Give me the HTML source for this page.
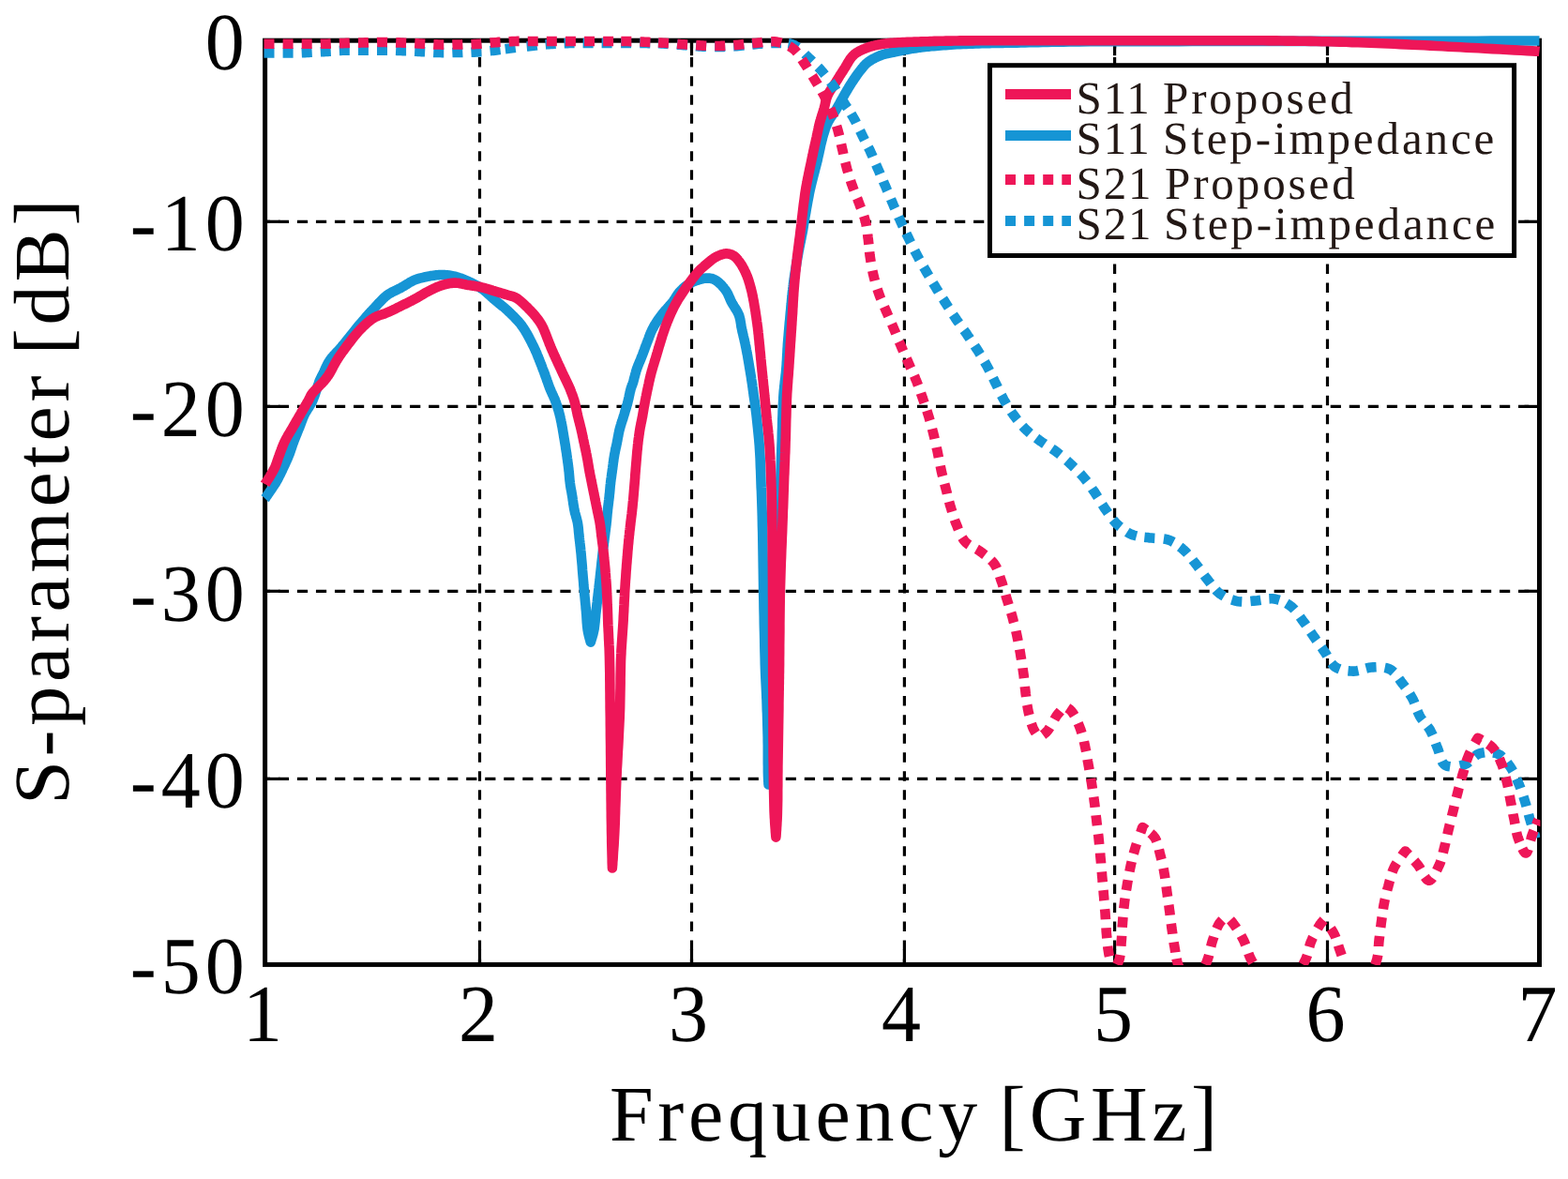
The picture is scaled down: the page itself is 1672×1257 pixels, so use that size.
<!DOCTYPE html>
<html lang="en"><head><meta charset="utf-8"><title>S-parameter [dB] vs Frequency [GHz]</title>
<style>
html,body{margin:0;padding:0;background:#fff;}
body{width:1672px;height:1257px;overflow:hidden;}
svg{display:block;}
text{font-family:"Liberation Serif","DejaVu Serif",serif;fill:#000;text-rendering:geometricPrecision;}
.tk{font-size:84px;letter-spacing:5px;}
.ax{font-size:84px;letter-spacing:4.2px;}
.lg{font-size:49px;letter-spacing:2px;fill:#231815;}
</style></head><body>
<svg width="1672" height="1257" viewBox="0 0 1672 1257">
<rect width="1672" height="1257" fill="#fff"/>
<g stroke="#000" stroke-width="3.2" fill="none">
<line x1="511.5" y1="43.2" x2="511.5" y2="1028.4" stroke-dasharray="10.5 9.53" stroke-dashoffset="2.13"/>
<line x1="511.5" y1="1012.4" x2="511.5" y2="1028.4"/>
<line x1="511.5" y1="43.2" x2="511.5" y2="59.2"/>
<line x1="737.5" y1="43.2" x2="737.5" y2="1028.4" stroke-dasharray="10.5 9.53" stroke-dashoffset="2.13"/>
<line x1="737.5" y1="1012.4" x2="737.5" y2="1028.4"/>
<line x1="737.5" y1="43.2" x2="737.5" y2="59.2"/>
<line x1="964.4" y1="43.2" x2="964.4" y2="1028.4" stroke-dasharray="10.5 9.53" stroke-dashoffset="2.13"/>
<line x1="964.4" y1="1012.4" x2="964.4" y2="1028.4"/>
<line x1="964.4" y1="43.2" x2="964.4" y2="59.2"/>
<line x1="1188.6" y1="43.2" x2="1188.6" y2="1028.4" stroke-dasharray="10.5 9.53" stroke-dashoffset="2.13"/>
<line x1="1188.6" y1="1012.4" x2="1188.6" y2="1028.4"/>
<line x1="1188.6" y1="43.2" x2="1188.6" y2="59.2"/>
<line x1="1415.5" y1="43.2" x2="1415.5" y2="1028.4" stroke-dasharray="10.5 9.53" stroke-dashoffset="2.13"/>
<line x1="1415.5" y1="1012.4" x2="1415.5" y2="1028.4"/>
<line x1="1415.5" y1="43.2" x2="1415.5" y2="59.2"/>
<line x1="282.6" y1="236.3" x2="1641.5" y2="236.3" stroke-dasharray="11.2 8.833" stroke-dashoffset="5.76"/>
<line x1="282.6" y1="236.3" x2="298.6" y2="236.3"/>
<line x1="1625.5" y1="236.3" x2="1641.5" y2="236.3"/>
<line x1="282.6" y1="433.4" x2="1641.5" y2="433.4" stroke-dasharray="11.2 8.833" stroke-dashoffset="5.76"/>
<line x1="282.6" y1="433.4" x2="298.6" y2="433.4"/>
<line x1="1625.5" y1="433.4" x2="1641.5" y2="433.4"/>
<line x1="282.6" y1="630.3" x2="1641.5" y2="630.3" stroke-dasharray="11.2 8.833" stroke-dashoffset="5.76"/>
<line x1="282.6" y1="630.3" x2="298.6" y2="630.3"/>
<line x1="1625.5" y1="630.3" x2="1641.5" y2="630.3"/>
<line x1="282.6" y1="830.4" x2="1641.5" y2="830.4" stroke-dasharray="11.2 8.833" stroke-dashoffset="5.76"/>
<line x1="282.6" y1="830.4" x2="298.6" y2="830.4"/>
<line x1="1625.5" y1="830.4" x2="1641.5" y2="830.4"/>
</g>
<rect x="282.6" y="43.2" width="1358.9" height="985.2" fill="none" stroke="#000" stroke-width="5"/>
<defs><clipPath id="cp"><rect x="270" y="36" width="1372.5" height="993"/></clipPath></defs>
<g clip-path="url(#cp)" fill="none" stroke-linejoin="round">
<path d="M282.6 531.5 L282.8 531.3 L283.3 530.6 L284.0 529.5 L285.0 528.1 L286.1 526.5 L287.4 524.7 L288.7 522.7 L290.1 520.7 L291.4 518.7 L292.6 516.8 L293.8 515.1 L294.7 513.5 L295.4 512.3 L296.1 511.1 L296.7 509.9 L297.3 508.7 L297.9 507.5 L298.5 506.3 L299.1 505.1 L299.7 503.9 L300.2 502.8 L300.8 501.6 L301.3 500.4 L301.9 499.2 L302.5 498.0 L303.0 496.8 L303.6 495.6 L304.1 494.4 L304.7 493.2 L305.2 492.0 L305.8 490.8 L306.3 489.6 L306.8 488.4 L307.3 487.2 L307.8 486.0 L308.3 484.8 L308.8 483.6 L309.2 482.4 L309.6 481.2 L310.0 480.0 L310.4 478.9 L310.8 477.7 L311.2 476.5 L311.6 475.3 L312.0 474.1 L312.4 472.9 L312.9 471.7 L313.3 470.5 L313.8 469.3 L314.2 468.1 L314.7 466.9 L315.2 465.7 L315.7 464.5 L316.2 463.3 L316.7 462.1 L317.1 460.9 L317.6 459.7 L318.1 458.5 L318.6 457.3 L319.1 456.1 L319.6 454.9 L320.0 453.7 L320.5 452.5 L320.9 451.3 L321.4 450.1 L321.8 448.9 L322.3 447.7 L322.7 446.5 L323.2 445.3 L323.7 444.2 L324.2 443.0 L324.8 441.8 L325.4 440.6 L326.1 439.4 L326.8 438.3 L327.5 437.1 L328.2 436.0 L329.0 434.8 L329.7 433.6 L330.4 432.5 L331.2 431.2 L331.9 430.0 L332.6 428.7 L333.2 427.4 L333.9 425.7 L334.6 424.0 L335.3 422.1 L336.0 420.2 L336.6 418.2 L337.3 416.2 L337.9 414.3 L338.5 412.4 L339.1 410.6 L339.7 408.9 L340.2 407.3 L340.8 405.9 L341.1 405.2 L341.4 404.5 L341.7 403.9 L342.0 403.3 L342.3 402.7 L342.6 402.2 L342.8 401.7 L343.1 401.1 L343.4 400.6 L343.7 400.0 L344.1 399.4 L344.4 398.7 L344.9 397.7 L345.4 396.6 L345.9 395.4 L346.4 394.3 L347.0 393.0 L347.5 391.8 L348.1 390.5 L348.7 389.3 L349.4 388.0 L350.0 386.8 L350.8 385.6 L351.5 384.4 L352.4 383.2 L353.3 382.0 L354.2 380.8 L355.2 379.7 L356.2 378.5 L357.3 377.4 L358.3 376.2 L359.4 375.1 L360.6 373.9 L361.7 372.6 L362.8 371.3 L364.0 370.0 L365.5 368.1 L367.2 366.2 L368.8 364.1 L370.6 361.9 L372.3 359.8 L374.1 357.5 L375.9 355.3 L377.7 353.1 L379.4 350.9 L381.1 348.8 L382.8 346.8 L384.4 344.9 L385.7 343.4 L386.9 342.0 L388.1 340.6 L389.3 339.2 L390.5 337.8 L391.6 336.5 L392.8 335.2 L394.0 333.9 L395.1 332.6 L396.3 331.4 L397.5 330.1 L398.7 328.8 L399.9 327.5 L401.1 326.3 L402.2 325.0 L403.4 323.7 L404.6 322.4 L405.8 321.2 L407.0 320.0 L408.2 318.8 L409.4 317.6 L410.6 316.5 L411.8 315.5 L413.1 314.5 L414.2 313.7 L415.4 313.0 L416.6 312.3 L417.8 311.6 L419.0 311.0 L420.2 310.4 L421.4 309.9 L422.6 309.3 L423.8 308.7 L425.0 308.1 L426.2 307.5 L427.4 306.9 L428.6 306.2 L429.8 305.5 L431.0 304.8 L432.2 304.0 L433.4 303.3 L434.6 302.6 L435.8 301.8 L436.9 301.1 L438.1 300.5 L439.4 299.8 L440.6 299.2 L441.8 298.7 L443.0 298.2 L444.1 297.8 L445.3 297.4 L446.5 297.0 L447.7 296.7 L448.9 296.4 L450.1 296.1 L451.3 295.8 L452.5 295.5 L453.7 295.3 L454.9 295.0 L456.1 294.8 L457.3 294.6 L458.5 294.3 L459.7 294.1 L460.9 293.9 L462.1 293.7 L463.3 293.6 L464.5 293.4 L465.7 293.3 L466.9 293.2 L468.1 293.1 L469.3 293.0 L470.5 293.0 L471.7 293.0 L472.9 293.0 L474.1 293.1 L475.3 293.2 L476.5 293.3 L477.7 293.4 L478.9 293.6 L480.1 293.8 L481.2 294.0 L482.4 294.2 L483.6 294.4 L484.8 294.7 L486.0 295.0 L487.2 295.3 L488.4 295.7 L489.6 296.1 L490.9 296.5 L492.1 296.9 L493.3 297.4 L494.5 297.9 L495.6 298.4 L496.8 298.9 L498.0 299.4 L499.2 299.9 L500.4 300.4 L501.6 301.0 L502.8 301.6 L504.0 302.2 L505.2 302.8 L506.4 303.4 L507.6 304.0 L508.8 304.7 L510.0 305.4 L511.2 306.1 L512.3 306.8 L513.5 307.6 L514.7 308.5 L516.0 309.4 L517.2 310.4 L518.4 311.4 L519.6 312.5 L520.8 313.6 L522.0 314.6 L523.1 315.7 L524.3 316.8 L525.5 317.9 L526.7 319.0 L527.9 320.0 L529.1 321.0 L530.3 322.0 L531.5 323.0 L532.7 323.9 L533.9 324.9 L535.1 325.9 L536.3 326.8 L537.5 327.8 L538.7 328.8 L539.9 329.9 L541.0 330.9 L542.2 332.0 L543.4 333.2 L544.7 334.4 L545.9 335.6 L547.2 336.8 L548.4 338.0 L549.6 339.3 L550.8 340.6 L552.0 341.9 L553.2 343.2 L554.4 344.6 L555.5 346.0 L556.6 347.5 L557.8 349.2 L559.0 351.0 L560.2 352.9 L561.4 354.9 L562.5 356.9 L563.6 358.9 L564.7 361.0 L565.7 363.0 L566.8 365.0 L567.7 366.9 L568.6 368.7 L569.5 370.5 L570.1 371.8 L570.7 373.0 L571.2 374.3 L571.8 375.5 L572.3 376.6 L572.7 377.8 L573.2 379.0 L573.6 380.1 L574.1 381.3 L574.6 382.4 L575.0 383.6 L575.5 384.8 L576.0 386.0 L576.5 387.3 L577.0 388.6 L577.5 389.8 L578.0 391.1 L578.4 392.4 L578.9 393.7 L579.4 394.9 L579.9 396.2 L580.4 397.5 L580.8 398.7 L581.3 400.0 L581.7 401.2 L582.2 402.4 L582.6 403.6 L583.0 404.8 L583.4 406.0 L583.9 407.2 L584.3 408.4 L584.7 409.6 L585.1 410.8 L585.6 412.0 L586.0 413.2 L586.5 414.4 L587.0 415.6 L587.5 416.8 L588.0 418.0 L588.6 419.2 L589.1 420.4 L589.7 421.5 L590.2 422.7 L590.7 423.9 L591.3 425.1 L591.8 426.3 L592.2 427.5 L592.7 428.7 L593.1 429.9 L593.5 431.1 L593.9 432.3 L594.3 433.5 L594.7 434.7 L595.0 435.9 L595.4 437.1 L595.7 438.3 L596.1 439.5 L596.4 440.7 L596.7 441.9 L597.0 443.1 L597.3 444.3 L597.6 445.5 L597.8 446.7 L598.1 447.9 L598.3 449.0 L598.6 450.2 L598.8 451.4 L599.0 452.6 L599.2 453.8 L599.5 455.0 L599.7 456.2 L599.9 457.4 L600.1 458.6 L600.3 459.8 L600.5 461.0 L600.7 462.2 L600.9 463.4 L601.1 464.6 L601.3 465.8 L601.5 467.0 L601.7 468.2 L601.9 469.4 L602.1 470.6 L602.3 471.8 L602.5 473.0 L602.7 474.2 L602.9 475.4 L603.1 476.6 L603.2 477.8 L603.4 478.9 L603.6 480.1 L603.8 481.3 L604.0 482.5 L604.2 483.7 L604.3 484.9 L604.5 486.1 L604.7 487.3 L604.8 488.5 L605.0 489.7 L605.2 490.9 L605.3 492.1 L605.5 493.3 L605.7 494.5 L605.8 495.7 L606.0 496.9 L606.1 498.1 L606.3 499.3 L606.4 500.5 L606.5 501.7 L606.7 502.9 L606.8 504.1 L606.9 505.3 L607.0 506.5 L607.1 507.7 L607.2 508.8 L607.3 510.0 L607.4 511.2 L607.5 512.4 L607.7 513.6 L607.8 514.8 L608.0 516.0 L608.1 517.2 L608.3 518.4 L608.5 519.6 L608.7 520.8 L608.9 522.0 L609.2 523.2 L609.4 524.4 L609.6 525.6 L609.8 526.8 L610.0 528.0 L610.2 529.2 L610.4 530.4 L610.6 531.6 L610.7 532.8 L610.9 534.0 L611.1 535.2 L611.2 536.4 L611.4 537.5 L611.6 538.7 L611.8 539.9 L612.0 541.1 L612.2 542.3 L612.4 543.5 L612.7 544.7 L612.9 545.9 L613.2 547.1 L613.6 548.3 L613.9 549.5 L614.2 550.7 L614.6 551.9 L614.9 553.1 L615.2 554.3 L615.5 555.5 L615.8 556.7 L616.0 557.9 L616.2 559.1 L616.4 560.3 L616.5 561.4 L616.7 562.6 L616.8 563.8 L616.9 565.0 L617.0 566.2 L617.1 567.4 L617.2 568.6 L617.4 569.8 L617.5 571.0 L617.6 572.2 L617.7 573.5 L617.9 574.8 L618.0 576.0 L618.2 577.3 L618.3 578.5 L618.5 579.8 L618.6 581.1 L618.8 582.4 L618.9 583.8 L619.1 585.3 L619.2 586.8 L619.4 588.4 L619.7 591.1 L619.9 594.0 L620.2 597.2 L620.5 600.5 L620.8 603.9 L621.0 607.4 L621.3 610.9 L621.6 614.4 L621.9 617.9 L622.2 621.2 L622.4 624.4 L622.7 627.4 L622.9 629.6 L623.1 631.8 L623.3 634.0 L623.5 636.0 L623.7 638.1 L623.9 640.1 L624.1 642.1 L624.3 644.0 L624.5 646.0 L624.6 647.9 L624.8 649.9 L625.0 651.8 L625.1 653.6 L625.3 655.3 L625.4 657.1 L625.5 658.9 L625.6 660.6 L625.7 662.3 L625.8 664.0 L626.0 665.7 L626.1 667.3 L626.3 668.9 L626.5 670.5 L626.7 672.0 L626.9 673.2 L627.2 674.6 L627.5 676.0 L627.8 677.4 L628.2 678.8 L628.5 680.1 L628.9 681.3 L629.2 682.4 L629.4 683.3 L629.6 684.0 L629.8 684.4 L629.8 684.6 L629.9 684.4 L630.0 684.0 L630.2 683.3 L630.5 682.4 L630.8 681.3 L631.2 680.1 L631.6 678.8 L632.0 677.4 L632.4 676.0 L632.7 674.6 L633.0 673.2 L633.3 672.0 L633.6 670.5 L633.8 668.9 L634.0 667.3 L634.2 665.7 L634.4 664.0 L634.6 662.3 L634.7 660.6 L634.9 658.9 L635.1 657.1 L635.2 655.3 L635.4 653.6 L635.6 651.8 L635.8 649.9 L636.1 647.9 L636.3 646.0 L636.5 644.0 L636.8 642.1 L637.0 640.1 L637.2 638.1 L637.5 636.0 L637.7 634.0 L638.0 631.8 L638.2 629.6 L638.5 627.4 L638.8 624.4 L639.2 621.2 L639.6 617.9 L639.9 614.5 L640.3 610.9 L640.7 607.4 L641.1 603.9 L641.4 600.5 L641.8 597.2 L642.2 594.0 L642.5 591.1 L642.8 588.4 L643.0 586.8 L643.2 585.3 L643.3 583.8 L643.5 582.4 L643.7 581.1 L643.8 579.8 L644.0 578.5 L644.2 577.3 L644.3 576.0 L644.5 574.8 L644.6 573.5 L644.8 572.2 L645.0 571.0 L645.1 569.8 L645.3 568.6 L645.4 567.4 L645.6 566.2 L645.7 565.0 L645.9 563.8 L646.0 562.6 L646.2 561.5 L646.3 560.3 L646.5 559.1 L646.6 557.9 L646.7 556.7 L646.9 555.5 L647.0 554.3 L647.1 553.1 L647.2 551.9 L647.3 550.7 L647.4 549.5 L647.5 548.3 L647.6 547.1 L647.8 545.9 L647.9 544.7 L648.0 543.5 L648.1 542.3 L648.3 541.1 L648.4 539.9 L648.6 538.7 L648.7 537.5 L648.9 536.4 L649.0 535.2 L649.1 534.0 L649.3 532.8 L649.4 531.6 L649.6 530.4 L649.7 529.2 L649.8 528.0 L649.9 526.8 L650.1 525.6 L650.2 524.4 L650.3 523.2 L650.4 522.0 L650.5 520.8 L650.6 519.6 L650.7 518.4 L650.8 517.2 L651.0 516.0 L651.1 514.8 L651.2 513.6 L651.4 512.4 L651.5 511.2 L651.7 510.0 L651.9 508.8 L652.0 507.6 L652.2 506.5 L652.3 505.3 L652.5 504.1 L652.7 502.9 L652.8 501.7 L653.0 500.5 L653.2 499.3 L653.3 498.1 L653.5 496.9 L653.6 495.7 L653.8 494.5 L653.9 493.3 L654.1 492.1 L654.3 490.9 L654.4 489.7 L654.6 488.5 L654.8 487.3 L655.0 486.1 L655.2 484.9 L655.4 483.7 L655.7 482.5 L655.9 481.3 L656.1 480.1 L656.4 478.9 L656.6 477.8 L656.9 476.6 L657.2 475.4 L657.4 474.2 L657.7 473.0 L657.9 471.8 L658.1 470.6 L658.4 469.4 L658.6 468.2 L658.8 467.0 L659.0 465.8 L659.3 464.6 L659.5 463.4 L659.7 462.2 L660.0 461.0 L660.2 459.8 L660.5 458.6 L660.8 457.4 L661.1 456.2 L661.5 455.0 L661.8 453.8 L662.2 452.6 L662.5 451.4 L662.9 450.2 L663.3 449.1 L663.7 447.9 L664.1 446.7 L664.5 445.5 L664.8 444.3 L665.2 443.1 L665.6 441.9 L665.9 440.7 L666.3 439.5 L666.6 438.3 L667.0 437.1 L667.4 435.9 L667.7 434.7 L668.1 433.5 L668.4 432.3 L668.8 431.1 L669.1 429.9 L669.4 428.7 L669.7 427.5 L670.0 426.3 L670.3 425.0 L670.6 423.7 L670.8 422.5 L671.1 421.2 L671.4 420.0 L671.6 418.7 L671.9 417.6 L672.2 416.5 L672.4 415.4 L672.7 414.4 L672.9 413.8 L673.1 413.2 L673.3 412.6 L673.5 412.1 L673.6 411.6 L673.8 411.1 L674.0 410.7 L674.2 410.2 L674.4 409.6 L674.6 409.1 L674.8 408.5 L675.0 407.9 L675.3 406.9 L675.6 405.8 L675.9 404.7 L676.2 403.5 L676.5 402.3 L676.9 401.0 L677.2 399.8 L677.5 398.5 L677.9 397.2 L678.2 395.9 L678.6 394.7 L679.0 393.5 L679.4 392.3 L679.9 391.1 L680.3 389.9 L680.8 388.7 L681.3 387.5 L681.8 386.3 L682.3 385.1 L682.8 384.0 L683.3 382.8 L683.7 381.6 L684.2 380.4 L684.7 379.2 L685.2 378.0 L685.6 376.8 L686.1 375.6 L686.5 374.4 L687.0 373.2 L687.4 372.0 L687.8 370.8 L688.3 369.6 L688.7 368.4 L689.2 367.2 L689.6 366.0 L690.1 364.8 L690.6 363.6 L691.0 362.4 L691.5 361.2 L691.9 360.0 L692.3 358.8 L692.8 357.6 L693.3 356.4 L693.7 355.2 L694.2 354.0 L694.8 352.8 L695.3 351.7 L695.9 350.5 L696.6 349.3 L697.2 348.1 L697.9 346.8 L698.7 345.6 L699.4 344.4 L700.2 343.2 L701.0 342.0 L701.8 340.8 L702.6 339.6 L703.5 338.4 L704.3 337.3 L705.2 336.1 L706.1 334.9 L707.1 333.7 L708.2 332.4 L709.2 331.2 L710.3 330.0 L711.4 328.8 L712.5 327.6 L713.5 326.4 L714.6 325.2 L715.6 324.1 L716.5 322.9 L717.4 321.8 L718.1 320.9 L718.7 320.0 L719.3 319.0 L719.9 318.1 L720.4 317.2 L721.0 316.4 L721.5 315.5 L722.1 314.6 L722.7 313.8 L723.3 312.9 L723.9 312.1 L724.6 311.3 L725.4 310.5 L726.1 309.7 L727.0 308.9 L727.8 308.1 L728.6 307.3 L729.5 306.5 L730.4 305.8 L731.3 305.0 L732.2 304.4 L733.1 303.7 L734.1 303.1 L735.0 302.5 L735.9 302.0 L736.8 301.5 L737.7 301.0 L738.7 300.6 L739.6 300.2 L740.6 299.8 L741.6 299.5 L742.5 299.1 L743.4 298.8 L744.4 298.5 L745.2 298.3 L746.1 298.0 L746.7 297.8 L747.4 297.6 L748.0 297.5 L748.6 297.3 L749.2 297.2 L749.8 297.0 L750.4 296.9 L750.9 296.8 L751.5 296.7 L752.1 296.7 L752.7 296.6 L753.3 296.6 L753.9 296.6 L754.5 296.6 L755.1 296.6 L755.7 296.6 L756.3 296.6 L756.9 296.7 L757.5 296.8 L758.1 296.9 L758.7 297.0 L759.3 297.1 L759.9 297.3 L760.5 297.5 L761.1 297.8 L761.8 298.1 L762.4 298.4 L763.0 298.7 L763.6 299.1 L764.2 299.5 L764.8 300.0 L765.4 300.4 L766.0 300.9 L766.6 301.4 L767.1 301.9 L767.7 302.4 L768.3 303.0 L769.0 303.6 L769.6 304.3 L770.2 305.0 L770.8 305.7 L771.5 306.4 L772.0 307.1 L772.6 307.9 L773.2 308.6 L773.8 309.4 L774.3 310.2 L774.8 311.0 L775.3 311.8 L775.8 312.7 L776.2 313.5 L776.6 314.4 L777.0 315.3 L777.4 316.2 L777.8 317.1 L778.2 318.0 L778.6 319.0 L779.0 319.9 L779.4 320.8 L779.9 321.8 L780.5 322.9 L781.2 324.1 L781.9 325.2 L782.6 326.4 L783.4 327.6 L784.1 328.8 L784.9 330.0 L785.6 331.2 L786.3 332.4 L786.9 333.6 L787.5 334.9 L788.0 336.1 L788.4 337.3 L788.7 338.5 L789.0 339.6 L789.3 340.8 L789.5 342.0 L789.7 343.3 L789.9 344.5 L790.1 345.7 L790.3 346.9 L790.4 348.1 L790.7 349.3 L790.9 350.5 L791.2 351.7 L791.4 352.9 L791.7 354.1 L792.0 355.3 L792.3 356.5 L792.6 357.7 L792.8 358.8 L793.1 360.0 L793.4 361.2 L793.7 362.4 L793.9 363.6 L794.2 364.8 L794.5 366.0 L794.7 367.2 L795.0 368.4 L795.2 369.6 L795.5 370.8 L795.7 372.0 L795.9 373.2 L796.2 374.4 L796.4 375.6 L796.6 376.8 L796.9 378.0 L797.1 379.2 L797.3 380.4 L797.5 381.6 L797.7 382.8 L797.9 384.0 L798.1 385.2 L798.3 386.3 L798.5 387.5 L798.7 388.7 L798.9 389.9 L799.1 391.1 L799.3 392.3 L799.5 393.5 L799.7 394.7 L799.9 395.9 L800.1 397.1 L800.3 398.3 L800.5 399.5 L800.7 400.7 L800.9 401.9 L801.1 403.1 L801.2 404.3 L801.4 405.5 L801.6 406.7 L801.8 407.9 L802.0 409.1 L802.2 410.3 L802.3 411.5 L802.5 412.8 L802.7 414.0 L802.8 415.2 L803.0 416.4 L803.2 417.6 L803.3 418.8 L803.5 419.9 L803.6 421.1 L803.8 422.2 L803.9 423.1 L804.1 424.0 L804.2 424.8 L804.3 425.6 L804.4 426.3 L804.5 427.1 L804.7 427.9 L804.8 428.7 L804.9 429.6 L805.0 430.6 L805.2 431.6 L805.3 432.7 L805.6 435.3 L806.0 438.2 L806.4 441.4 L806.8 444.9 L807.2 448.6 L807.6 452.4 L808.0 456.3 L808.4 460.3 L808.8 464.2 L809.2 468.1 L809.5 471.8 L809.8 475.4 L810.0 478.7 L810.2 482.0 L810.4 485.2 L810.6 488.4 L810.7 491.7 L810.8 494.9 L810.9 498.1 L811.1 501.3 L811.2 504.5 L811.3 507.6 L811.4 510.8 L811.5 514.0 L811.6 517.0 L811.7 520.0 L811.9 522.9 L812.0 525.8 L812.1 528.7 L812.2 531.6 L812.3 534.5 L812.4 537.5 L812.5 540.6 L812.6 543.8 L812.7 547.2 L812.8 550.7 L812.9 556.0 L813.0 561.6 L813.2 567.5 L813.3 573.6 L813.4 579.9 L813.5 586.4 L813.6 592.9 L813.7 599.5 L813.8 606.2 L813.9 612.9 L814.0 619.5 L814.1 626.1 L814.2 633.4 L814.4 641.0 L814.5 648.8 L814.7 656.8 L814.8 664.9 L815.0 672.9 L815.2 680.7 L815.3 688.3 L815.5 695.5 L815.7 702.3 L815.8 708.5 L816.0 714.0 L816.1 716.7 L816.2 719.1 L816.3 721.4 L816.4 723.6 L816.5 725.6 L816.6 727.6 L816.7 729.5 L816.8 731.4 L816.9 733.4 L817.0 735.5 L817.1 737.7 L817.2 740.0 L817.3 743.2 L817.5 746.5 L817.6 750.0 L817.7 753.5 L817.8 757.2 L818.0 760.8 L818.1 764.5 L818.2 768.3 L818.3 772.0 L818.4 775.7 L818.5 779.4 L818.6 783.0 L818.7 786.7 L818.7 790.5 L818.8 794.4 L818.8 798.4 L818.8 802.4 L818.8 806.3 L818.8 810.1 L818.8 813.8 L818.9 817.3 L818.9 820.5 L818.9 823.4 L819.0 826.0 L819.0 827.2 L819.1 828.4 L819.1 829.6 L819.2 830.8 L819.2 831.9 L819.3 833.0 L819.4 834.0 L819.4 834.8 L819.4 835.5 L819.5 836.0 L819.5 836.4 L819.5 836.5 L819.5 835.6 L819.6 833.0 L819.7 829.1 L819.8 824.0 L820.0 817.9 L820.1 811.2 L820.3 804.0 L820.5 796.7 L820.8 789.3 L821.0 782.3 L821.3 775.8 L821.5 770.0 L821.7 765.2 L822.0 760.5 L822.3 756.0 L822.6 751.4 L822.9 747.0 L823.2 742.5 L823.5 738.0 L823.8 733.4 L824.1 728.8 L824.4 724.0 L824.7 719.1 L825.0 714.0 L825.3 707.3 L825.7 700.4 L826.0 693.2 L826.3 685.9 L826.6 678.4 L826.9 670.8 L827.2 663.2 L827.4 655.6 L827.7 648.0 L828.0 640.5 L828.2 633.2 L828.5 626.0 L828.7 619.5 L829.0 613.0 L829.2 606.6 L829.4 600.2 L829.6 593.9 L829.8 587.6 L830.0 581.3 L830.2 575.1 L830.4 568.8 L830.6 562.6 L830.8 556.3 L831.0 550.0 L831.2 543.7 L831.4 537.3 L831.6 530.9 L831.8 524.5 L832.1 518.0 L832.3 511.6 L832.5 505.3 L832.7 499.0 L832.9 492.8 L833.1 486.7 L833.3 480.8 L833.5 475.0 L833.7 470.2 L833.8 465.5 L833.9 460.8 L834.1 456.1 L834.2 451.5 L834.3 447.0 L834.5 442.6 L834.6 438.3 L834.8 434.1 L835.0 430.0 L835.2 426.0 L835.4 422.2 L835.6 419.5 L835.8 416.9 L836.1 414.4 L836.3 412.0 L836.6 409.6 L836.8 407.3 L837.1 405.0 L837.4 402.7 L837.6 400.5 L837.9 398.2 L838.1 395.9 L838.3 393.5 L838.5 391.1 L838.7 388.7 L838.8 386.3 L839.0 383.9 L839.1 381.5 L839.2 379.2 L839.4 376.8 L839.5 374.4 L839.6 372.0 L839.8 369.6 L839.9 367.2 L840.1 364.8 L840.3 362.4 L840.5 360.0 L840.7 357.6 L840.9 355.2 L841.1 352.8 L841.3 350.4 L841.5 348.1 L841.7 345.7 L841.9 343.3 L842.2 340.9 L842.4 338.5 L842.6 336.1 L842.8 333.7 L843.1 331.2 L843.3 328.7 L843.5 326.2 L843.8 323.6 L844.0 321.1 L844.2 318.7 L844.5 316.2 L844.7 313.9 L844.9 311.6 L845.2 309.4 L845.4 307.4 L845.6 306.0 L845.7 304.7 L845.9 303.5 L846.0 302.3 L846.2 301.1 L846.3 299.9 L846.5 298.8 L846.6 297.7 L846.8 296.6 L847.0 295.4 L847.1 294.3 L847.3 293.1 L847.5 291.9 L847.7 290.7 L847.9 289.5 L848.1 288.3 L848.3 287.1 L848.5 285.9 L848.7 284.7 L848.9 283.5 L849.1 282.3 L849.3 281.1 L849.5 279.9 L849.7 278.7 L849.9 277.5 L850.1 276.3 L850.3 275.1 L850.5 273.9 L850.8 272.7 L851.0 271.5 L851.2 270.4 L851.4 269.2 L851.6 268.0 L851.8 266.8 L852.1 265.6 L852.3 264.4 L852.5 263.2 L852.8 262.1 L853.0 261.0 L853.2 259.9 L853.4 258.8 L853.7 257.7 L853.9 256.6 L854.1 255.4 L854.4 254.2 L854.6 252.9 L854.9 251.5 L855.2 250.0 L855.8 247.0 L856.4 243.5 L857.0 239.7 L857.7 235.7 L858.4 231.4 L859.2 227.1 L859.9 222.7 L860.7 218.2 L861.5 213.9 L862.3 209.8 L863.0 205.8 L863.8 202.2 L864.4 199.5 L865.0 197.0 L865.6 194.5 L866.2 192.1 L866.8 189.7 L867.4 187.4 L868.0 185.1 L868.6 182.8 L869.2 180.5 L869.8 178.2 L870.4 175.9 L871.0 173.5 L871.6 171.1 L872.1 168.6 L872.7 166.1 L873.3 163.6 L873.8 161.0 L874.4 158.5 L874.9 156.0 L875.4 153.6 L876.0 151.3 L876.6 149.0 L877.1 146.8 L877.7 144.8 L878.1 143.4 L878.5 142.1 L878.9 140.8 L879.3 139.6 L879.6 138.4 L880.0 137.3 L880.4 136.1 L880.8 135.0 L881.3 133.9 L881.7 132.8 L882.3 131.7 L882.8 130.5 L883.4 129.3 L884.1 128.1 L884.9 126.8 L885.6 125.6 L886.4 124.5 L887.2 123.3 L888.0 122.1 L888.9 120.9 L889.7 119.7 L890.5 118.5 L891.3 117.3 L892.0 116.1 L892.7 114.9 L893.4 113.7 L894.1 112.5 L894.7 111.3 L895.4 110.1 L896.0 108.9 L896.7 107.7 L897.4 106.5 L898.0 105.3 L898.7 104.1 L899.3 103.0 L900.0 101.8 L900.7 100.7 L901.3 99.5 L902.0 98.4 L902.6 97.3 L903.3 96.2 L903.9 95.1 L904.6 94.0 L905.2 92.9 L905.9 91.8 L906.6 90.7 L907.3 89.6 L908.0 88.5 L908.7 87.4 L909.5 86.2 L910.3 85.0 L911.1 83.8 L911.9 82.7 L912.7 81.5 L913.5 80.3 L914.3 79.2 L915.1 78.1 L915.9 77.0 L916.7 76.0 L917.5 75.0 L918.1 74.2 L918.7 73.5 L919.3 72.8 L919.8 72.1 L920.4 71.4 L920.9 70.7 L921.5 70.0 L922.1 69.4 L922.7 68.8 L923.4 68.1 L924.1 67.5 L924.8 66.9 L925.8 66.1 L926.8 65.4 L928.0 64.7 L929.1 63.9 L930.3 63.2 L931.6 62.5 L932.8 61.9 L934.1 61.2 L935.4 60.6 L936.7 60.0 L938.0 59.5 L939.2 59.0 L940.4 58.6 L941.5 58.2 L942.7 57.8 L943.9 57.5 L945.1 57.2 L946.3 57.0 L947.5 56.7 L948.7 56.5 L949.9 56.2 L951.1 56.0 L952.3 55.8 L953.5 55.5 L954.7 55.2 L955.9 55.0 L957.1 54.7 L958.3 54.5 L959.5 54.3 L960.7 54.0 L961.9 53.8 L963.1 53.6 L964.3 53.3 L965.5 53.1 L966.7 52.9 L967.9 52.7 L969.1 52.5 L970.2 52.3 L971.4 52.1 L972.5 51.9 L973.6 51.7 L974.7 51.5 L975.9 51.4 L977.1 51.2 L978.3 51.0 L979.5 50.8 L980.8 50.7 L982.2 50.5 L984.2 50.3 L986.4 50.0 L988.6 49.8 L990.9 49.6 L993.2 49.3 L995.6 49.1 L998.1 48.9 L1000.6 48.7 L1003.2 48.5 L1005.7 48.3 L1008.3 48.1 L1010.9 47.9 L1014.0 47.7 L1017.1 47.5 L1020.4 47.3 L1023.7 47.2 L1027.0 47.0 L1030.4 46.9 L1033.8 46.8 L1037.1 46.6 L1040.4 46.5 L1043.7 46.4 L1046.9 46.3 L1050.0 46.2 L1052.6 46.1 L1055.1 46.1 L1057.5 46.0 L1059.9 46.0 L1062.3 45.9 L1064.6 45.9 L1067.0 45.9 L1069.4 45.9 L1071.9 45.8 L1074.5 45.8 L1077.2 45.7 L1080.0 45.7 L1084.2 45.6 L1088.5 45.5 L1092.9 45.4 L1097.4 45.3 L1102.1 45.2 L1106.9 45.1 L1111.9 45.0 L1117.1 44.9 L1122.5 44.8 L1128.1 44.7 L1133.9 44.6 L1140.0 44.5 L1150.6 44.4 L1162.0 44.3 L1174.2 44.2 L1187.0 44.2 L1200.3 44.1 L1214.1 44.1 L1228.2 44.1 L1242.5 44.1 L1256.9 44.1 L1271.4 44.0 L1285.8 44.0 L1300.0 44.0 L1316.0 44.0 L1332.4 43.9 L1349.2 43.9 L1366.3 43.9 L1383.5 43.9 L1400.8 43.9 L1418.0 43.9 L1435.1 43.9 L1451.9 43.9 L1468.4 43.8 L1484.5 43.8 L1500.0 43.8 L1513.5 43.8 L1528.3 43.8 L1543.7 43.7 L1559.5 43.7 L1575.0 43.7 L1590.0 43.6 L1603.8 43.6 L1616.2 43.6 L1626.6 43.5 L1634.6 43.5 L1639.7 43.5 L1641.5 43.5" stroke="#1695D5" stroke-width="10.6"/>
<path d="M282.6 516.1 L282.7 515.9 L283.2 515.2 L283.8 514.2 L284.6 512.9 L285.6 511.4 L286.7 509.7 L287.8 507.9 L288.9 506.0 L290.0 504.2 L291.0 502.4 L291.9 500.7 L292.7 499.2 L293.3 498.0 L293.8 496.8 L294.3 495.6 L294.7 494.4 L295.1 493.2 L295.5 492.0 L295.9 490.8 L296.3 489.6 L296.7 488.4 L297.1 487.2 L297.6 486.0 L298.0 484.8 L298.5 483.6 L298.9 482.4 L299.3 481.2 L299.8 480.0 L300.2 478.8 L300.7 477.6 L301.2 476.4 L301.6 475.2 L302.1 474.0 L302.6 472.9 L303.1 471.7 L303.7 470.5 L304.3 469.3 L304.9 468.1 L305.6 466.9 L306.3 465.7 L306.9 464.5 L307.6 463.3 L308.4 462.1 L309.1 460.9 L309.8 459.7 L310.5 458.5 L311.2 457.3 L311.9 456.1 L312.6 454.9 L313.3 453.7 L314.0 452.5 L314.7 451.3 L315.3 450.1 L316.0 448.9 L316.7 447.8 L317.4 446.6 L318.1 445.4 L318.8 444.2 L319.5 443.0 L320.2 441.8 L320.9 440.6 L321.6 439.3 L322.4 438.1 L323.1 436.8 L323.9 435.6 L324.6 434.3 L325.3 433.1 L326.1 431.8 L326.7 430.7 L327.4 429.5 L328.0 428.4 L328.6 427.4 L329.0 426.7 L329.3 426.1 L329.6 425.4 L329.9 424.8 L330.2 424.2 L330.5 423.6 L330.8 423.0 L331.0 422.5 L331.3 421.9 L331.7 421.3 L332.0 420.8 L332.4 420.2 L332.9 419.6 L333.3 419.0 L333.8 418.4 L334.4 417.8 L334.9 417.2 L335.5 416.6 L336.0 416.0 L336.6 415.4 L337.2 414.9 L337.8 414.3 L338.3 413.7 L338.9 413.1 L339.5 412.5 L340.0 411.9 L340.6 411.3 L341.2 410.7 L341.8 410.1 L342.4 409.5 L343.0 408.9 L343.6 408.3 L344.2 407.7 L344.7 407.1 L345.3 406.5 L345.8 405.9 L346.3 405.3 L346.7 404.8 L347.2 404.2 L347.6 403.6 L348.1 403.1 L348.5 402.5 L348.9 401.9 L349.3 401.3 L349.8 400.7 L350.2 400.1 L350.6 399.4 L351.1 398.7 L351.7 397.7 L352.3 396.6 L353.0 395.5 L353.6 394.3 L354.2 393.1 L354.9 391.9 L355.5 390.6 L356.2 389.3 L356.9 388.1 L357.6 386.8 L358.3 385.6 L359.0 384.4 L359.8 383.2 L360.5 382.0 L361.3 380.8 L362.1 379.6 L362.9 378.4 L363.7 377.3 L364.5 376.1 L365.4 374.9 L366.3 373.7 L367.1 372.5 L368.1 371.3 L369.0 370.0 L370.1 368.5 L371.3 366.9 L372.6 365.3 L373.8 363.7 L375.1 362.0 L376.4 360.3 L377.7 358.7 L379.1 357.1 L380.4 355.5 L381.7 354.0 L383.1 352.5 L384.4 351.1 L385.6 349.9 L386.7 348.8 L387.9 347.6 L389.1 346.5 L390.2 345.4 L391.4 344.4 L392.6 343.3 L393.8 342.4 L395.0 341.4 L396.2 340.5 L397.4 339.7 L398.7 338.9 L399.9 338.2 L401.0 337.7 L402.2 337.1 L403.4 336.7 L404.6 336.2 L405.8 335.8 L407.1 335.4 L408.3 335.0 L409.5 334.6 L410.7 334.2 L411.9 333.7 L413.1 333.2 L414.3 332.7 L415.5 332.1 L416.7 331.6 L417.9 331.0 L419.1 330.4 L420.3 329.8 L421.5 329.3 L422.6 328.7 L423.8 328.1 L425.0 327.5 L426.2 326.9 L427.4 326.3 L428.6 325.7 L429.8 325.1 L431.0 324.5 L432.2 324.0 L433.4 323.4 L434.6 322.8 L435.8 322.2 L437.0 321.6 L438.2 321.0 L439.4 320.4 L440.6 319.7 L441.8 319.1 L443.0 318.4 L444.2 317.8 L445.4 317.1 L446.6 316.4 L447.8 315.7 L448.9 315.0 L450.1 314.3 L451.3 313.6 L452.5 312.9 L453.7 312.2 L454.9 311.5 L456.1 310.9 L457.3 310.3 L458.5 309.7 L459.7 309.1 L460.9 308.5 L462.0 307.9 L463.2 307.3 L464.4 306.8 L465.6 306.2 L466.9 305.7 L468.1 305.3 L469.3 304.8 L470.5 304.4 L471.7 304.0 L472.9 303.7 L474.0 303.3 L475.2 303.0 L476.4 302.7 L477.6 302.5 L478.8 302.2 L480.0 302.0 L481.2 301.9 L482.4 301.7 L483.6 301.6 L484.8 301.6 L486.0 301.6 L487.2 301.7 L488.4 301.8 L489.6 302.0 L490.8 302.2 L492.0 302.4 L493.2 302.7 L494.4 302.9 L495.6 303.2 L496.8 303.5 L498.0 303.7 L499.2 303.9 L500.4 304.1 L501.6 304.3 L502.8 304.5 L504.0 304.6 L505.2 304.8 L506.4 305.0 L507.6 305.2 L508.7 305.4 L509.9 305.6 L511.1 305.8 L512.3 306.0 L513.5 306.3 L514.7 306.6 L515.9 306.9 L517.1 307.2 L518.3 307.6 L519.5 307.9 L520.7 308.3 L521.9 308.7 L523.1 309.0 L524.3 309.4 L525.5 309.8 L526.7 310.1 L527.9 310.5 L529.1 310.9 L530.3 311.2 L531.6 311.6 L532.9 312.0 L534.1 312.3 L535.4 312.7 L536.6 313.1 L537.8 313.5 L539.0 313.8 L540.1 314.2 L541.2 314.5 L542.2 314.8 L542.9 315.0 L543.5 315.2 L544.2 315.4 L544.8 315.5 L545.4 315.7 L546.0 315.8 L546.6 316.0 L547.1 316.2 L547.7 316.4 L548.3 316.6 L548.8 316.8 L549.4 317.1 L550.0 317.4 L550.6 317.8 L551.2 318.1 L551.8 318.5 L552.4 318.9 L552.9 319.3 L553.5 319.8 L554.1 320.3 L554.7 320.8 L555.3 321.3 L555.9 321.8 L556.6 322.4 L557.7 323.4 L558.8 324.4 L560.0 325.6 L561.3 326.8 L562.6 328.1 L563.9 329.4 L565.2 330.7 L566.5 332.1 L567.7 333.4 L568.9 334.7 L570.0 336.0 L571.0 337.2 L571.7 338.1 L572.4 338.9 L573.0 339.7 L573.6 340.5 L574.2 341.3 L574.8 342.1 L575.3 342.9 L575.9 343.7 L576.4 344.6 L577.0 345.5 L577.5 346.5 L578.1 347.5 L578.9 349.1 L579.7 350.8 L580.5 352.7 L581.3 354.6 L582.1 356.7 L582.9 358.7 L583.7 360.8 L584.5 362.9 L585.3 364.9 L586.0 366.9 L586.8 368.7 L587.5 370.5 L588.1 371.8 L588.6 373.1 L589.2 374.3 L589.7 375.5 L590.2 376.7 L590.7 377.9 L591.3 379.0 L591.8 380.2 L592.3 381.3 L592.8 382.5 L593.4 383.6 L593.9 384.8 L594.4 386.0 L595.0 387.2 L595.5 388.3 L596.1 389.5 L596.6 390.7 L597.2 391.9 L597.7 393.0 L598.3 394.2 L598.8 395.4 L599.4 396.6 L599.9 397.8 L600.5 399.0 L601.1 400.3 L601.7 401.5 L602.3 402.8 L602.9 404.1 L603.6 405.4 L604.2 406.7 L604.8 408.0 L605.4 409.3 L606.0 410.6 L606.6 411.8 L607.2 413.1 L607.7 414.4 L608.2 415.6 L608.7 416.8 L609.1 418.0 L609.6 419.2 L610.0 420.4 L610.5 421.5 L610.9 422.7 L611.3 423.9 L611.7 425.1 L612.1 426.3 L612.4 427.5 L612.8 428.7 L613.1 429.9 L613.4 431.1 L613.7 432.3 L614.0 433.5 L614.2 434.7 L614.5 435.9 L614.7 437.1 L615.0 438.3 L615.2 439.5 L615.5 440.7 L615.7 441.9 L616.0 443.1 L616.3 444.3 L616.6 445.5 L616.9 446.7 L617.2 447.9 L617.5 449.1 L617.8 450.2 L618.1 451.4 L618.4 452.6 L618.7 453.8 L619.0 455.0 L619.3 456.2 L619.6 457.4 L619.9 458.6 L620.1 459.8 L620.4 461.0 L620.7 462.2 L620.9 463.4 L621.2 464.6 L621.4 465.8 L621.7 467.0 L621.9 468.2 L622.2 469.4 L622.4 470.6 L622.7 471.8 L623.0 473.0 L623.2 474.2 L623.5 475.4 L623.7 476.6 L624.0 477.8 L624.2 478.9 L624.5 480.1 L624.7 481.3 L625.0 482.5 L625.2 483.7 L625.5 484.9 L625.7 486.1 L625.9 487.3 L626.1 488.5 L626.4 489.7 L626.6 490.9 L626.8 492.1 L627.0 493.3 L627.2 494.5 L627.4 495.7 L627.6 496.9 L627.8 498.1 L628.0 499.3 L628.2 500.5 L628.4 501.7 L628.6 502.9 L628.9 504.1 L629.1 505.3 L629.3 506.5 L629.6 507.7 L629.8 508.8 L630.0 510.0 L630.3 511.2 L630.5 512.4 L630.8 513.6 L631.0 514.8 L631.2 516.0 L631.5 517.2 L631.7 518.4 L632.0 519.6 L632.2 520.8 L632.4 522.0 L632.7 523.2 L632.9 524.4 L633.2 525.6 L633.4 526.8 L633.7 528.0 L633.9 529.2 L634.1 530.4 L634.4 531.6 L634.6 532.8 L634.9 534.0 L635.1 535.2 L635.4 536.4 L635.6 537.5 L635.8 538.7 L636.1 539.9 L636.3 541.1 L636.6 542.3 L636.8 543.5 L637.0 544.7 L637.3 545.9 L637.6 547.1 L637.8 548.3 L638.1 549.5 L638.3 550.7 L638.6 551.9 L638.8 553.1 L639.1 554.3 L639.3 555.5 L639.5 556.7 L639.7 557.9 L639.9 559.1 L640.1 560.3 L640.2 561.4 L640.4 562.6 L640.5 563.8 L640.7 564.9 L640.8 566.1 L640.9 567.3 L641.1 568.5 L641.2 569.7 L641.3 571.0 L641.5 572.2 L641.7 573.6 L641.9 575.0 L642.0 576.4 L642.2 577.8 L642.4 579.2 L642.6 580.6 L642.8 582.0 L643.0 583.5 L643.1 585.1 L643.3 586.6 L643.5 588.3 L643.7 590.0 L644.0 592.6 L644.2 595.3 L644.5 598.1 L644.8 601.1 L645.1 604.1 L645.4 607.2 L645.6 610.4 L645.9 613.5 L646.1 616.7 L646.4 619.9 L646.6 623.0 L646.8 626.1 L647.0 629.2 L647.1 632.3 L647.3 635.5 L647.4 638.6 L647.5 641.8 L647.6 644.9 L647.8 648.1 L647.9 651.3 L648.0 654.4 L648.1 657.6 L648.2 660.7 L648.3 663.8 L648.4 666.8 L648.6 669.8 L648.7 672.7 L648.9 675.6 L649.0 678.5 L649.1 681.4 L649.3 684.3 L649.4 687.3 L649.6 690.3 L649.7 693.4 L649.8 696.7 L649.9 700.0 L650.0 704.5 L650.1 709.1 L650.2 713.8 L650.3 718.7 L650.3 723.7 L650.4 728.7 L650.4 733.9 L650.5 739.0 L650.5 744.3 L650.6 749.5 L650.6 754.8 L650.7 760.0 L650.8 765.8 L650.8 771.7 L650.9 777.7 L650.9 783.8 L651.0 789.9 L651.1 796.0 L651.1 802.1 L651.2 808.2 L651.2 814.3 L651.3 820.2 L651.3 826.1 L651.4 831.8 L651.5 836.8 L651.5 841.9 L651.6 846.9 L651.6 851.9 L651.7 856.8 L651.7 861.7 L651.8 866.5 L651.8 871.3 L651.9 875.9 L652.0 880.5 L652.0 884.9 L652.1 889.2 L652.2 892.7 L652.2 896.6 L652.3 900.5 L652.4 904.6 L652.5 908.5 L652.6 912.3 L652.7 915.9 L652.7 919.0 L652.8 921.6 L652.9 923.7 L652.9 924.9 L652.9 925.4 L652.9 924.9 L653.0 923.7 L653.2 921.6 L653.3 919.0 L653.6 915.9 L653.8 912.3 L654.0 908.5 L654.3 904.6 L654.6 900.5 L654.8 896.6 L655.0 892.7 L655.2 889.2 L655.4 884.9 L655.6 880.5 L655.8 875.9 L655.9 871.3 L656.1 866.5 L656.2 861.7 L656.4 856.8 L656.6 851.9 L656.7 846.9 L656.9 841.9 L657.1 836.8 L657.3 831.8 L657.6 826.1 L657.8 820.2 L658.2 814.3 L658.5 808.2 L658.8 802.1 L659.2 796.0 L659.5 789.9 L659.8 783.8 L660.1 777.7 L660.4 771.7 L660.7 765.8 L660.9 760.0 L661.1 754.8 L661.2 749.5 L661.3 744.3 L661.4 739.0 L661.5 733.9 L661.6 728.7 L661.6 723.7 L661.7 718.7 L661.8 713.8 L661.9 709.1 L662.0 704.5 L662.2 700.0 L662.4 696.7 L662.5 693.4 L662.7 690.3 L662.9 687.3 L663.1 684.3 L663.3 681.4 L663.5 678.5 L663.7 675.6 L663.9 672.7 L664.1 669.8 L664.3 666.8 L664.5 663.8 L664.7 660.7 L664.8 657.6 L665.0 654.4 L665.2 651.3 L665.3 648.1 L665.5 645.0 L665.6 641.8 L665.8 638.7 L666.0 635.5 L666.1 632.4 L666.3 629.2 L666.5 626.1 L666.7 622.9 L666.9 619.6 L667.2 616.3 L667.4 612.9 L667.6 609.6 L667.9 606.3 L668.1 603.0 L668.4 599.8 L668.6 596.7 L668.9 593.8 L669.1 591.0 L669.3 588.4 L669.4 586.8 L669.6 585.3 L669.7 583.9 L669.8 582.5 L669.9 581.1 L670.1 579.8 L670.2 578.5 L670.3 577.3 L670.4 576.0 L670.5 574.8 L670.7 573.5 L670.8 572.2 L670.9 571.0 L671.1 569.8 L671.2 568.6 L671.3 567.4 L671.4 566.2 L671.6 565.0 L671.7 563.8 L671.9 562.6 L672.0 561.5 L672.1 560.3 L672.3 559.1 L672.4 557.9 L672.5 556.7 L672.7 555.5 L672.8 554.3 L673.0 553.1 L673.1 551.9 L673.3 550.7 L673.4 549.5 L673.6 548.3 L673.7 547.1 L673.8 545.9 L674.0 544.7 L674.1 543.5 L674.2 542.3 L674.4 541.1 L674.5 539.9 L674.6 538.7 L674.7 537.5 L674.8 536.4 L674.9 535.2 L675.1 534.0 L675.2 532.8 L675.3 531.6 L675.4 530.4 L675.5 529.2 L675.6 528.0 L675.7 526.8 L675.8 525.6 L675.9 524.4 L676.0 523.2 L676.1 522.0 L676.2 520.8 L676.3 519.6 L676.4 518.4 L676.5 517.2 L676.6 516.0 L676.7 514.8 L676.8 513.6 L676.9 512.4 L677.0 511.2 L677.1 510.0 L677.2 508.8 L677.2 507.6 L677.3 506.5 L677.4 505.3 L677.5 504.1 L677.6 502.9 L677.7 501.7 L677.8 500.5 L677.9 499.3 L678.0 498.1 L678.1 496.9 L678.2 495.7 L678.3 494.5 L678.4 493.3 L678.5 492.1 L678.6 490.9 L678.7 489.7 L678.8 488.5 L678.9 487.3 L679.0 486.1 L679.1 484.9 L679.2 483.7 L679.3 482.5 L679.4 481.3 L679.5 480.1 L679.7 478.9 L679.8 477.8 L679.9 476.6 L680.0 475.4 L680.1 474.2 L680.3 473.0 L680.4 471.8 L680.5 470.6 L680.7 469.4 L680.8 468.2 L681.0 467.0 L681.2 465.8 L681.3 464.6 L681.5 463.4 L681.7 462.2 L681.8 461.0 L682.0 459.8 L682.2 458.6 L682.4 457.4 L682.6 456.2 L682.8 455.0 L683.1 453.8 L683.3 452.6 L683.5 451.4 L683.8 450.2 L684.0 449.1 L684.3 447.9 L684.5 446.7 L684.7 445.5 L685.0 444.3 L685.2 443.1 L685.4 441.9 L685.6 440.7 L685.8 439.5 L686.0 438.3 L686.2 437.1 L686.4 435.9 L686.6 434.7 L686.8 433.5 L687.1 432.3 L687.3 431.1 L687.5 429.9 L687.7 428.7 L687.9 427.5 L688.2 426.3 L688.4 425.1 L688.6 423.9 L688.9 422.7 L689.1 421.5 L689.4 420.4 L689.6 419.2 L689.8 418.0 L690.1 416.8 L690.3 415.6 L690.6 414.4 L690.9 413.2 L691.1 411.9 L691.4 410.7 L691.7 409.4 L691.9 408.1 L692.2 406.8 L692.5 405.6 L692.8 404.4 L693.0 403.2 L693.3 402.1 L693.6 401.0 L693.8 400.0 L694.0 399.4 L694.1 398.8 L694.3 398.2 L694.4 397.7 L694.5 397.2 L694.7 396.7 L694.8 396.3 L694.9 395.8 L695.1 395.2 L695.3 394.7 L695.4 394.1 L695.6 393.5 L695.9 392.5 L696.2 391.4 L696.5 390.3 L696.9 389.1 L697.3 387.9 L697.6 386.7 L698.0 385.4 L698.4 384.2 L698.8 382.9 L699.2 381.7 L699.5 380.4 L699.9 379.2 L700.3 378.0 L700.6 376.8 L701.0 375.6 L701.3 374.4 L701.7 373.2 L702.0 372.0 L702.4 370.8 L702.7 369.6 L703.1 368.4 L703.5 367.2 L703.8 366.0 L704.2 364.8 L704.6 363.6 L704.9 362.4 L705.3 361.2 L705.7 360.0 L706.0 358.8 L706.4 357.6 L706.8 356.4 L707.2 355.3 L707.6 354.1 L708.0 352.9 L708.4 351.7 L708.8 350.5 L709.2 349.3 L709.7 348.1 L710.1 346.9 L710.6 345.7 L711.0 344.5 L711.5 343.3 L712.0 342.1 L712.5 340.9 L713.0 339.7 L713.5 338.5 L714.0 337.3 L714.5 336.1 L715.0 334.9 L715.6 333.7 L716.2 332.5 L716.7 331.3 L717.3 330.1 L717.9 328.9 L718.5 327.7 L719.1 326.5 L719.7 325.3 L720.4 324.2 L721.0 323.0 L721.7 321.8 L722.4 320.6 L723.1 319.3 L723.9 318.1 L724.7 316.9 L725.5 315.7 L726.3 314.4 L727.1 313.2 L727.9 312.0 L728.7 310.8 L729.5 309.7 L730.2 308.5 L731.0 307.4 L731.7 306.4 L732.3 305.5 L733.0 304.5 L733.7 303.6 L734.3 302.7 L735.0 301.8 L735.6 300.9 L736.3 300.0 L736.9 299.2 L737.6 298.3 L738.2 297.4 L738.9 296.6 L739.5 295.8 L740.1 295.1 L740.7 294.3 L741.3 293.6 L741.9 292.8 L742.5 292.1 L743.1 291.4 L743.7 290.7 L744.3 290.0 L744.9 289.3 L745.5 288.7 L746.1 288.0 L746.7 287.4 L747.3 286.8 L747.9 286.3 L748.5 285.7 L749.1 285.2 L749.7 284.7 L750.3 284.2 L750.9 283.6 L751.5 283.1 L752.1 282.6 L752.7 282.1 L753.3 281.6 L753.9 281.1 L754.5 280.6 L755.1 280.1 L755.7 279.6 L756.3 279.1 L756.9 278.6 L757.5 278.1 L758.1 277.6 L758.7 277.1 L759.3 276.7 L759.9 276.2 L760.5 275.8 L761.1 275.4 L761.7 275.0 L762.3 274.7 L762.9 274.3 L763.5 274.0 L764.1 273.7 L764.7 273.3 L765.3 273.0 L765.9 272.8 L766.5 272.5 L767.1 272.2 L767.7 272.0 L768.3 271.8 L768.9 271.6 L769.5 271.4 L770.0 271.2 L770.6 271.0 L771.2 270.9 L771.8 270.7 L772.4 270.6 L773.0 270.5 L773.6 270.4 L774.2 270.4 L774.8 270.4 L775.4 270.4 L776.0 270.5 L776.6 270.6 L777.2 270.7 L777.9 270.8 L778.5 271.0 L779.1 271.2 L779.7 271.4 L780.3 271.6 L780.9 271.9 L781.4 272.2 L782.0 272.5 L782.7 272.9 L783.3 273.4 L783.9 273.9 L784.6 274.5 L785.2 275.1 L785.8 275.8 L786.4 276.4 L786.9 277.1 L787.5 277.9 L788.1 278.6 L788.6 279.3 L789.2 280.1 L789.8 281.0 L790.5 282.0 L791.1 283.0 L791.7 284.1 L792.3 285.2 L792.9 286.3 L793.5 287.4 L794.0 288.5 L794.6 289.7 L795.1 290.8 L795.6 292.0 L796.1 293.1 L796.6 294.2 L797.0 295.4 L797.5 296.6 L797.9 297.8 L798.3 299.0 L798.6 300.2 L799.0 301.4 L799.4 302.6 L799.7 303.8 L800.0 305.0 L800.4 306.2 L800.7 307.4 L801.0 308.6 L801.3 309.8 L801.6 311.0 L801.9 312.2 L802.1 313.4 L802.4 314.6 L802.6 315.8 L802.9 317.0 L803.1 318.2 L803.3 319.4 L803.6 320.6 L803.8 321.8 L804.0 323.0 L804.2 324.2 L804.4 325.4 L804.6 326.6 L804.8 327.8 L805.0 328.9 L805.2 330.1 L805.4 331.3 L805.6 332.5 L805.7 333.7 L805.9 334.9 L806.1 336.1 L806.3 337.3 L806.5 338.5 L806.6 339.7 L806.8 340.9 L807.0 342.1 L807.1 343.3 L807.3 344.5 L807.5 345.7 L807.6 346.9 L807.8 348.1 L808.0 349.3 L808.1 350.5 L808.2 351.7 L808.4 352.9 L808.5 354.1 L808.6 355.3 L808.8 356.5 L808.9 357.6 L809.0 358.8 L809.1 360.0 L809.2 361.2 L809.4 362.4 L809.5 363.6 L809.6 364.8 L809.7 366.0 L809.8 367.2 L810.0 368.4 L810.1 369.6 L810.2 370.8 L810.3 372.0 L810.4 373.2 L810.5 374.4 L810.7 375.6 L810.8 376.8 L810.9 378.0 L811.0 379.2 L811.1 380.4 L811.2 381.6 L811.3 382.8 L811.5 384.0 L811.6 385.2 L811.7 386.4 L811.8 387.5 L811.9 388.7 L812.0 389.9 L812.2 391.1 L812.3 392.3 L812.4 393.5 L812.5 394.7 L812.6 395.9 L812.8 397.1 L812.9 398.3 L813.0 399.5 L813.1 400.7 L813.3 401.9 L813.4 403.1 L813.5 404.3 L813.7 405.5 L813.8 406.7 L813.9 407.9 L814.0 409.1 L814.1 410.2 L814.2 411.4 L814.4 412.5 L814.5 413.7 L814.6 414.8 L814.7 416.0 L814.8 417.2 L814.9 418.4 L815.1 419.6 L815.2 420.9 L815.3 422.2 L815.5 423.9 L815.6 425.7 L815.8 427.5 L816.0 429.3 L816.2 431.2 L816.3 433.1 L816.5 435.0 L816.7 437.0 L816.9 439.0 L817.1 441.0 L817.3 443.0 L817.5 445.0 L817.7 447.3 L818.0 449.7 L818.2 452.1 L818.5 454.5 L818.8 457.0 L819.1 459.5 L819.3 462.0 L819.6 464.6 L819.8 467.1 L820.1 469.7 L820.3 472.3 L820.5 475.0 L820.7 478.1 L820.9 481.2 L821.1 484.4 L821.3 487.7 L821.4 491.0 L821.6 494.3 L821.7 497.6 L821.8 500.9 L822.0 504.2 L822.1 507.5 L822.2 510.8 L822.3 514.0 L822.4 517.0 L822.5 519.9 L822.6 522.8 L822.7 525.6 L822.7 528.4 L822.8 531.3 L822.9 534.1 L823.0 537.1 L823.0 540.1 L823.1 543.2 L823.1 546.5 L823.2 550.0 L823.3 555.3 L823.4 561.0 L823.5 566.9 L823.5 573.0 L823.6 579.4 L823.7 585.9 L823.7 592.5 L823.8 599.2 L823.9 606.0 L823.9 612.7 L824.0 619.4 L824.0 626.0 L824.0 633.3 L824.1 640.9 L824.1 648.8 L824.1 656.8 L824.1 664.8 L824.1 672.8 L824.1 680.7 L824.1 688.3 L824.2 695.5 L824.2 702.3 L824.2 708.5 L824.2 714.0 L824.2 716.7 L824.2 719.1 L824.2 721.3 L824.3 723.3 L824.3 725.3 L824.3 727.2 L824.3 729.0 L824.3 730.9 L824.3 733.0 L824.4 735.1 L824.4 737.4 L824.4 740.0 L824.4 744.8 L824.4 750.0 L824.5 755.6 L824.5 761.6 L824.5 767.8 L824.5 774.2 L824.5 780.6 L824.5 787.1 L824.6 793.6 L824.6 799.9 L824.6 806.0 L824.7 811.8 L824.8 816.9 L824.8 822.0 L824.9 827.2 L824.9 832.3 L825.0 837.5 L825.1 842.5 L825.2 847.4 L825.3 852.2 L825.4 856.8 L825.5 861.2 L825.6 865.3 L825.8 869.2 L825.9 871.7 L826.1 874.2 L826.2 876.9 L826.4 879.5 L826.6 882.1 L826.8 884.5 L826.9 886.7 L827.1 888.6 L827.2 890.3 L827.3 891.5 L827.4 892.3 L827.4 892.6 L827.4 892.3 L827.5 891.5 L827.6 890.3 L827.7 888.6 L827.8 886.7 L828.0 884.5 L828.1 882.1 L828.3 879.5 L828.4 876.9 L828.6 874.2 L828.7 871.7 L828.8 869.2 L828.9 865.3 L829.0 861.2 L829.1 856.8 L829.2 852.2 L829.2 847.4 L829.2 842.5 L829.3 837.5 L829.3 832.3 L829.3 827.2 L829.4 822.0 L829.4 816.9 L829.5 811.8 L829.6 806.0 L829.7 799.9 L829.8 793.6 L829.9 787.1 L830.0 780.6 L830.1 774.2 L830.2 767.8 L830.3 761.6 L830.4 755.6 L830.4 750.0 L830.5 744.8 L830.6 740.0 L830.6 737.4 L830.7 735.1 L830.7 733.0 L830.7 730.9 L830.8 729.0 L830.8 727.2 L830.8 725.3 L830.9 723.3 L830.9 721.3 L830.9 719.1 L831.0 716.7 L831.0 714.0 L831.1 708.5 L831.1 702.3 L831.2 695.5 L831.2 688.3 L831.3 680.7 L831.4 672.9 L831.4 664.9 L831.5 656.8 L831.6 648.8 L831.7 641.0 L831.8 633.4 L832.0 626.1 L832.2 619.5 L832.4 612.9 L832.6 606.2 L832.8 599.5 L833.1 592.9 L833.3 586.4 L833.6 579.9 L833.8 573.6 L834.1 567.5 L834.3 561.6 L834.5 556.0 L834.7 550.7 L834.8 547.2 L834.9 543.8 L835.1 540.6 L835.2 537.5 L835.3 534.5 L835.4 531.6 L835.5 528.7 L835.6 525.8 L835.7 522.9 L835.8 520.0 L835.9 517.0 L836.0 514.0 L836.1 510.8 L836.2 507.7 L836.4 504.6 L836.5 501.4 L836.6 498.3 L836.7 495.1 L836.9 492.0 L837.0 488.8 L837.1 485.5 L837.3 482.2 L837.4 478.8 L837.5 475.4 L837.6 471.2 L837.8 466.8 L837.9 462.3 L838.0 457.7 L838.1 453.0 L838.2 448.3 L838.4 443.6 L838.5 439.0 L838.6 434.6 L838.8 430.2 L838.9 426.1 L839.1 422.2 L839.2 419.5 L839.4 416.9 L839.6 414.4 L839.7 412.0 L839.9 409.6 L840.1 407.3 L840.2 405.0 L840.4 402.7 L840.6 400.5 L840.8 398.2 L840.9 395.9 L841.1 393.5 L841.3 391.1 L841.4 388.7 L841.6 386.3 L841.7 383.9 L841.9 381.5 L842.1 379.2 L842.2 376.8 L842.4 374.4 L842.5 372.0 L842.7 369.6 L842.8 367.2 L843.0 364.8 L843.2 362.4 L843.3 360.0 L843.5 357.6 L843.6 355.2 L843.8 352.8 L844.0 350.5 L844.1 348.1 L844.3 345.7 L844.4 343.3 L844.6 340.9 L844.7 338.5 L844.9 336.1 L845.1 333.7 L845.2 331.3 L845.3 328.9 L845.5 326.5 L845.6 324.1 L845.7 321.7 L845.9 319.4 L846.0 317.0 L846.2 314.6 L846.3 312.2 L846.5 309.8 L846.7 307.4 L846.9 305.0 L847.1 302.6 L847.3 300.2 L847.5 297.8 L847.8 295.4 L848.0 293.0 L848.2 290.7 L848.5 288.3 L848.7 285.9 L849.0 283.5 L849.2 281.1 L849.5 278.7 L849.8 276.3 L850.0 274.0 L850.3 271.7 L850.6 269.4 L850.9 267.1 L851.2 264.8 L851.5 262.5 L851.8 260.1 L852.1 257.7 L852.4 255.2 L852.8 252.6 L853.1 250.0 L853.5 246.4 L854.0 242.6 L854.5 238.6 L854.9 234.5 L855.4 230.3 L855.9 226.1 L856.4 221.9 L856.9 217.7 L857.5 213.6 L858.0 209.6 L858.5 205.8 L859.1 202.2 L859.5 199.5 L860.0 197.0 L860.5 194.5 L860.9 192.1 L861.4 189.7 L861.9 187.4 L862.3 185.1 L862.8 182.8 L863.3 180.5 L863.8 178.2 L864.3 175.9 L864.8 173.5 L865.3 171.1 L865.8 168.6 L866.4 166.1 L866.9 163.6 L867.4 161.0 L868.0 158.5 L868.5 156.1 L869.1 153.6 L869.6 151.3 L870.1 149.0 L870.6 146.8 L871.0 144.8 L871.3 143.4 L871.6 142.1 L871.8 140.9 L872.1 139.7 L872.3 138.5 L872.6 137.3 L872.8 136.2 L873.1 135.1 L873.3 134.0 L873.6 132.8 L873.9 131.7 L874.2 130.5 L874.5 129.3 L874.9 128.1 L875.2 126.9 L875.6 125.7 L876.0 124.5 L876.4 123.3 L876.7 122.1 L877.1 120.9 L877.5 119.7 L877.9 118.5 L878.2 117.3 L878.6 116.1 L878.9 114.9 L879.2 113.7 L879.5 112.5 L879.8 111.3 L880.0 110.1 L880.3 108.9 L880.6 107.7 L880.9 106.5 L881.2 105.3 L881.6 104.1 L882.0 103.0 L882.5 101.8 L883.1 100.6 L883.7 99.3 L884.4 98.1 L885.1 96.9 L885.9 95.7 L886.6 94.5 L887.4 93.3 L888.2 92.2 L889.1 91.0 L889.9 89.8 L890.6 88.6 L891.4 87.4 L892.1 86.2 L892.9 85.0 L893.6 83.8 L894.4 82.6 L895.1 81.4 L895.8 80.2 L896.6 79.1 L897.3 77.9 L898.1 76.7 L898.9 75.5 L899.6 74.3 L900.4 73.1 L901.2 71.9 L902.0 70.6 L902.7 69.3 L903.5 67.9 L904.3 66.6 L905.1 65.3 L905.9 64.0 L906.7 62.8 L907.6 61.6 L908.5 60.5 L909.5 59.4 L910.5 58.4 L911.5 57.5 L912.6 56.7 L913.7 56.0 L914.9 55.3 L916.1 54.6 L917.3 54.0 L918.6 53.4 L919.8 52.8 L921.1 52.3 L922.3 51.8 L923.6 51.3 L924.8 50.8 L926.0 50.4 L927.2 50.0 L928.3 49.6 L929.5 49.3 L930.7 48.9 L931.9 48.7 L933.2 48.4 L934.4 48.1 L935.6 47.9 L936.8 47.6 L938.0 47.4 L939.2 47.2 L940.4 47.0 L941.5 46.8 L942.6 46.6 L943.8 46.5 L944.9 46.4 L946.0 46.2 L947.2 46.1 L948.4 46.0 L949.6 45.9 L950.8 45.8 L952.1 45.7 L953.5 45.6 L955.5 45.5 L957.7 45.3 L960.0 45.2 L962.3 45.1 L964.8 45.0 L967.2 44.9 L969.7 44.8 L972.3 44.7 L974.8 44.6 L977.3 44.6 L979.8 44.5 L982.2 44.4 L984.6 44.3 L986.9 44.2 L989.3 44.2 L991.6 44.1 L993.9 44.0 L996.3 43.9 L998.6 43.9 L1001.0 43.8 L1003.4 43.8 L1005.9 43.7 L1008.4 43.6 L1010.9 43.6 L1014.0 43.6 L1017.1 43.5 L1020.4 43.5 L1023.7 43.4 L1027.0 43.4 L1030.4 43.4 L1033.8 43.4 L1037.1 43.4 L1040.4 43.3 L1043.7 43.3 L1046.9 43.3 L1050.0 43.3 L1052.6 43.3 L1055.0 43.3 L1057.3 43.3 L1059.6 43.3 L1061.8 43.3 L1064.0 43.3 L1066.3 43.3 L1068.7 43.3 L1071.2 43.3 L1073.9 43.3 L1076.8 43.3 L1080.0 43.3 L1087.2 43.3 L1095.3 43.3 L1104.2 43.3 L1113.7 43.3 L1123.9 43.3 L1134.4 43.3 L1145.3 43.3 L1156.4 43.3 L1167.5 43.3 L1178.5 43.3 L1189.4 43.3 L1200.0 43.3 L1211.4 43.3 L1223.2 43.3 L1235.2 43.3 L1247.4 43.2 L1259.7 43.2 L1272.0 43.2 L1284.1 43.2 L1296.1 43.2 L1307.7 43.2 L1319.0 43.2 L1329.8 43.2 L1340.0 43.3 L1347.1 43.3 L1354.0 43.4 L1360.6 43.4 L1367.0 43.5 L1373.3 43.6 L1379.4 43.6 L1385.5 43.7 L1391.5 43.8 L1397.5 43.9 L1403.6 44.0 L1409.7 44.2 L1416.0 44.3 L1422.4 44.5 L1428.8 44.6 L1435.2 44.8 L1441.6 45.1 L1448.1 45.3 L1454.5 45.5 L1460.9 45.8 L1467.3 46.0 L1473.7 46.3 L1480.2 46.5 L1486.6 46.8 L1493.0 47.1 L1499.4 47.4 L1505.9 47.7 L1512.3 48.0 L1518.8 48.3 L1525.2 48.6 L1531.7 49.0 L1538.1 49.3 L1544.5 49.7 L1551.0 50.0 L1557.3 50.3 L1563.7 50.7 L1570.0 51.0 L1576.5 51.3 L1583.7 51.7 L1591.4 52.1 L1599.3 52.5 L1607.2 53.0 L1614.9 53.4 L1622.0 53.8 L1628.4 54.1 L1633.7 54.4 L1637.9 54.6 L1640.6 54.7 L1641.5 54.8" stroke="#EE1658" stroke-width="10.6"/>
<path d="M281.3 56.5 L281.4 56.5 L281.7 56.5 L282.1 56.5 L282.6 56.5 L283.2 56.5 L283.9 56.5 L284.7 56.5 L285.5 56.5 L286.2 56.5 L287.0 56.5 L288.5 56.5 L290.2 56.5 L292.1 56.5 L294.1 56.5 L296.3 56.5 L298.5 56.5 L300.7 56.5 L302.9 56.5 L305.0 56.5 L307.1 56.5 L309.1 56.5 L311.1 56.4 L313.1 56.4 L315.1 56.4 L317.1 56.3 L319.1 56.3 L321.1 56.2 L323.1 56.1 L325.1 56.1 L327.1 56.0 L329.1 55.9 L331.2 55.8 L333.2 55.7 L335.2 55.7 L337.2 55.5 L339.2 55.4 L341.2 55.3 L343.2 55.2 L345.2 55.1 L347.2 55.0 L349.2 54.9 L351.2 54.7 L353.2 54.6 L355.2 54.4 L357.2 54.3 L359.3 54.1 L361.3 54.0 L363.3 53.9 L365.3 53.8 L367.3 53.7 L369.3 53.6 L371.3 53.6 L373.3 53.6 L375.3 53.6 L377.3 53.6 L379.3 53.6 L381.3 53.7 L383.3 53.7 L385.3 53.7 L387.4 53.7 L389.4 53.7 L391.4 53.7 L393.4 53.7 L395.4 53.7 L397.4 53.7 L399.4 53.7 L401.4 53.7 L403.4 53.7 L405.4 53.7 L407.4 53.7 L409.4 53.7 L411.4 53.7 L413.4 53.7 L415.4 53.8 L417.5 53.8 L419.5 53.8 L421.5 53.8 L423.5 53.9 L425.5 53.9 L427.5 54.0 L429.5 54.1 L431.5 54.2 L433.5 54.2 L435.5 54.3 L437.5 54.5 L439.5 54.6 L441.5 54.7 L443.5 54.8 L445.6 54.9 L447.6 55.0 L449.6 55.1 L451.6 55.2 L453.6 55.3 L455.6 55.4 L457.6 55.6 L459.6 55.7 L461.6 55.8 L463.6 55.9 L465.6 55.9 L467.6 56.0 L469.6 56.0 L471.6 56.1 L473.7 56.1 L475.7 56.1 L477.7 56.1 L479.7 56.1 L481.7 56.1 L483.7 56.0 L485.7 56.0 L487.7 56.0 L489.7 56.0 L491.7 56.0 L493.7 55.9 L495.7 55.9 L497.7 55.9 L499.7 55.8 L501.8 55.8 L503.8 55.7 L505.8 55.6 L507.8 55.5 L509.8 55.4 L511.8 55.2 L513.9 55.1 L515.9 54.9 L517.9 54.7 L520.0 54.5 L522.0 54.3 L524.0 54.1 L525.9 53.9 L527.8 53.7 L529.5 53.5 L531.1 53.3 L532.7 53.1 L534.3 52.9 L535.9 52.6 L537.4 52.4 L539.0 52.2 L540.6 51.9 L542.3 51.7 L544.0 51.5 L546.1 51.2 L548.4 51.0 L550.7 50.7 L553.0 50.5 L555.3 50.2 L557.7 50.0 L560.1 49.7 L562.4 49.5 L564.7 49.2 L567.0 49.0 L569.1 48.8 L571.1 48.6 L573.1 48.3 L575.1 48.1 L577.1 47.9 L579.1 47.7 L581.0 47.5 L583.0 47.3 L585.0 47.2 L587.0 47.0 L589.0 46.9 L591.0 46.7 L593.0 46.6 L595.0 46.5 L597.0 46.4 L599.0 46.3 L601.0 46.2 L603.0 46.1 L605.0 46.1 L607.0 46.0 L609.0 46.0 L611.0 45.9 L613.0 45.9 L615.0 45.9 L617.0 45.9 L619.0 46.0 L621.0 46.0 L623.0 46.0 L625.0 46.0 L627.0 46.0 L629.0 46.0 L631.0 46.0 L633.0 46.0 L635.0 46.0 L637.0 46.0 L639.0 46.0 L641.0 46.0 L643.0 46.0 L645.0 46.0 L647.0 46.0 L649.0 46.0 L651.1 46.0 L653.1 46.0 L655.2 46.0 L657.2 46.0 L659.3 46.0 L661.4 46.0 L663.4 46.0 L665.5 46.0 L667.5 46.0 L669.5 46.0 L671.5 46.0 L673.6 46.0 L675.6 46.0 L677.6 46.0 L679.6 46.0 L681.6 46.0 L683.6 46.0 L685.6 46.0 L687.6 46.0 L689.6 46.0 L691.5 46.1 L693.5 46.1 L695.4 46.1 L697.4 46.2 L699.4 46.2 L701.3 46.3 L703.3 46.3 L705.2 46.4 L707.2 46.5 L709.2 46.6 L711.2 46.7 L713.2 46.9 L715.2 47.0 L717.2 47.2 L719.2 47.4 L721.3 47.5 L723.3 47.7 L725.3 47.8 L727.3 48.0 L729.3 48.2 L731.3 48.3 L733.3 48.5 L735.3 48.6 L737.3 48.8 L739.4 49.0 L741.4 49.1 L743.4 49.3 L745.4 49.4 L747.4 49.5 L749.4 49.6 L751.4 49.7 L753.4 49.8 L755.4 49.8 L757.4 49.9 L759.5 50.0 L761.5 50.0 L763.5 50.0 L765.5 50.0 L767.5 50.0 L769.5 50.0 L771.5 49.9 L773.5 49.8 L775.5 49.8 L777.6 49.7 L779.6 49.5 L781.6 49.4 L783.6 49.3 L785.6 49.1 L787.6 49.0 L789.6 48.8 L791.6 48.6 L793.5 48.4 L795.5 48.2 L797.5 48.0 L799.5 47.8 L801.5 47.6 L803.4 47.4 L805.4 47.2 L807.4 47.0 L809.4 46.8 L811.4 46.7 L813.4 46.5 L815.5 46.4 L817.5 46.3 L819.5 46.1 L821.5 46.1 L823.5 46.0 L825.5 46.0 L827.5 46.0 L829.4 46.0 L831.3 46.0 L833.2 46.0 L835.1 46.0 L836.9 46.0 L838.8 46.1 L840.6 46.3 L842.4 46.6 L844.2 47.1 L845.9 47.7 L847.7 48.6 L849.4 49.7 L851.1 50.9 L852.8 52.3 L854.4 53.8 L856.0 55.3 L857.6 56.9 L859.1 58.5 L860.7 60.0 L862.2 61.5 L863.7 62.9 L865.1 64.2 L866.5 65.6 L867.9 66.9 L869.3 68.3 L870.7 69.7 L872.0 71.1 L873.4 72.5 L874.7 73.9 L876.0 75.4 L877.3 76.9 L878.6 78.5 L879.9 80.1 L881.2 81.7 L882.5 83.3 L883.7 85.0 L884.9 86.6 L886.2 88.3 L887.4 90.0 L888.6 91.7 L889.9 93.5 L891.1 95.4 L892.3 97.3 L893.5 99.2 L894.8 101.1 L895.9 103.0 L897.1 104.9 L898.3 106.8 L899.5 108.7 L900.6 110.5 L901.6 112.1 L902.6 113.7 L903.7 115.2 L904.7 116.8 L905.6 118.3 L906.6 119.8 L907.6 121.3 L908.5 122.9 L909.5 124.5 L910.4 126.1 L911.4 127.9 L912.3 129.6 L913.2 131.5 L914.1 133.3 L915.0 135.2 L915.9 137.0 L916.8 138.9 L917.7 140.7 L918.6 142.6 L919.5 144.4 L920.4 146.2 L921.3 147.9 L922.2 149.7 L923.1 151.4 L924.0 153.2 L924.8 154.9 L925.7 156.7 L926.6 158.4 L927.5 160.2 L928.3 162.0 L929.1 163.8 L930.0 165.6 L930.8 167.5 L931.6 169.3 L932.4 171.2 L933.2 173.0 L933.9 174.9 L934.7 176.7 L935.5 178.6 L936.3 180.4 L937.1 182.2 L937.9 184.0 L938.6 185.8 L939.4 187.6 L940.2 189.4 L941.0 191.2 L941.8 193.0 L942.5 194.8 L943.3 196.6 L944.1 198.4 L944.9 200.3 L945.7 202.2 L946.5 204.0 L947.3 205.9 L948.1 207.8 L948.9 209.7 L949.7 211.6 L950.5 213.5 L951.3 215.4 L952.1 217.3 L952.9 219.2 L953.7 221.1 L954.6 223.0 L955.4 224.9 L956.2 226.8 L957.0 228.6 L957.9 230.5 L958.7 232.4 L959.6 234.2 L960.4 236.1 L961.2 237.9 L962.0 239.7 L962.9 241.4 L963.7 243.2 L964.5 244.9 L965.3 246.7 L966.2 248.4 L967.0 250.2 L967.8 251.9 L968.7 253.7 L969.6 255.5 L970.5 257.4 L971.4 259.2 L972.3 261.0 L973.2 262.9 L974.1 264.7 L975.0 266.6 L975.9 268.4 L976.9 270.2 L977.8 272.0 L978.8 273.8 L979.7 275.5 L980.7 277.3 L981.7 279.1 L982.7 280.8 L983.7 282.6 L984.7 284.3 L985.7 286.0 L986.7 287.8 L987.7 289.5 L988.7 291.2 L989.7 292.9 L990.7 294.6 L991.7 296.3 L992.7 298.0 L993.7 299.7 L994.7 301.4 L995.7 303.0 L996.8 304.7 L997.8 306.4 L998.8 308.1 L999.9 309.8 L1000.9 311.5 L1002.0 313.1 L1003.1 314.8 L1004.1 316.5 L1005.2 318.2 L1006.3 319.8 L1007.3 321.5 L1008.4 323.2 L1009.5 324.9 L1010.6 326.6 L1011.7 328.3 L1012.7 329.9 L1013.8 331.6 L1014.9 333.3 L1016.0 335.0 L1017.2 336.7 L1018.3 338.3 L1019.4 340.0 L1020.5 341.7 L1021.7 343.3 L1022.8 344.9 L1024.0 346.6 L1025.2 348.2 L1026.4 349.8 L1027.5 351.5 L1028.7 353.1 L1029.9 354.7 L1031.0 356.4 L1032.1 358.1 L1033.3 359.7 L1034.4 361.4 L1035.6 363.1 L1036.7 364.7 L1037.9 366.4 L1039.0 368.1 L1040.1 369.8 L1041.2 371.5 L1042.3 373.2 L1043.4 374.9 L1044.4 376.6 L1045.5 378.3 L1046.6 380.1 L1047.6 381.8 L1048.6 383.5 L1049.6 385.3 L1050.6 387.0 L1051.6 388.7 L1052.6 390.5 L1053.5 392.2 L1054.4 394.0 L1055.3 395.7 L1056.2 397.5 L1057.1 399.3 L1057.9 401.0 L1058.8 402.8 L1059.7 404.6 L1060.5 406.3 L1061.4 408.1 L1062.3 409.9 L1063.2 411.7 L1064.0 413.5 L1064.9 415.4 L1065.8 417.2 L1066.6 419.0 L1067.5 420.8 L1068.5 422.6 L1069.4 424.4 L1070.4 426.2 L1071.4 428.0 L1072.5 429.7 L1073.5 431.5 L1074.6 433.2 L1075.7 434.9 L1076.8 436.6 L1078.0 438.3 L1079.1 440.0 L1080.3 441.7 L1081.5 443.3 L1082.7 444.9 L1083.9 446.5 L1085.1 448.0 L1086.4 449.6 L1087.6 451.1 L1088.9 452.6 L1090.2 454.1 L1091.5 455.5 L1092.9 456.9 L1094.3 458.3 L1095.7 459.6 L1097.2 460.9 L1098.7 462.2 L1100.2 463.4 L1101.7 464.6 L1103.3 465.8 L1104.8 466.9 L1106.4 468.1 L1108.0 469.2 L1109.6 470.4 L1111.2 471.5 L1112.9 472.7 L1114.5 473.8 L1116.2 474.8 L1117.9 475.9 L1119.6 477.0 L1121.3 478.1 L1122.9 479.2 L1124.6 480.3 L1126.2 481.5 L1127.8 482.7 L1129.4 484.0 L1131.0 485.3 L1132.6 486.6 L1134.1 487.9 L1135.7 489.3 L1137.2 490.7 L1138.7 492.0 L1140.2 493.4 L1141.7 494.8 L1143.2 496.2 L1144.6 497.6 L1146.0 498.9 L1147.5 500.3 L1148.9 501.8 L1150.3 503.2 L1151.6 504.6 L1153.0 506.1 L1154.3 507.6 L1155.6 509.1 L1156.9 510.6 L1158.1 512.2 L1159.4 513.8 L1160.6 515.4 L1161.8 517.1 L1163.0 518.7 L1164.2 520.4 L1165.3 522.1 L1166.5 523.7 L1167.6 525.4 L1168.7 527.1 L1169.8 528.8 L1170.9 530.5 L1171.9 532.2 L1173.0 534.0 L1174.0 535.7 L1175.1 537.4 L1176.2 539.1 L1177.3 540.8 L1178.4 542.5 L1179.5 544.1 L1180.7 545.8 L1181.8 547.4 L1182.9 549.1 L1184.1 550.7 L1185.3 552.3 L1186.5 553.8 L1187.8 555.3 L1189.1 556.8 L1190.5 558.2 L1191.9 559.6 L1193.4 560.9 L1195.0 562.2 L1196.5 563.5 L1198.1 564.8 L1199.8 565.9 L1201.5 567.0 L1203.2 568.1 L1204.9 569.0 L1206.7 569.8 L1208.5 570.5 L1210.3 571.0 L1212.2 571.5 L1214.1 571.9 L1216.1 572.2 L1218.0 572.4 L1220.0 572.7 L1222.0 572.9 L1223.9 573.1 L1225.9 573.4 L1227.9 573.6 L1230.0 573.8 L1232.1 573.9 L1234.2 574.0 L1236.3 574.1 L1238.4 574.2 L1240.4 574.4 L1242.5 574.7 L1244.4 575.1 L1246.3 575.7 L1248.1 576.4 L1249.8 577.3 L1251.5 578.2 L1253.2 579.2 L1254.8 580.3 L1256.4 581.5 L1257.9 582.7 L1259.5 583.9 L1260.9 585.2 L1262.4 586.5 L1263.8 587.8 L1265.2 589.2 L1266.5 590.7 L1267.8 592.2 L1269.1 593.7 L1270.4 595.2 L1271.6 596.8 L1272.8 598.4 L1274.1 599.9 L1275.3 601.5 L1276.6 603.1 L1277.8 604.7 L1279.0 606.3 L1280.2 608.0 L1281.4 609.7 L1282.6 611.3 L1283.8 613.0 L1285.0 614.6 L1286.2 616.2 L1287.5 617.8 L1288.7 619.4 L1290.0 621.0 L1291.2 622.6 L1292.4 624.2 L1293.7 625.8 L1294.9 627.4 L1296.3 628.8 L1297.6 630.3 L1299.1 631.6 L1300.6 632.8 L1302.2 633.9 L1303.9 635.0 L1305.6 636.0 L1307.4 636.9 L1309.3 637.8 L1311.1 638.6 L1313.0 639.3 L1315.0 639.9 L1316.9 640.5 L1318.8 640.9 L1320.7 641.2 L1322.7 641.4 L1324.7 641.5 L1326.7 641.4 L1328.7 641.3 L1330.8 641.2 L1332.8 641.0 L1334.9 640.8 L1336.9 640.6 L1338.9 640.5 L1340.9 640.3 L1342.9 640.0 L1344.9 639.7 L1347.0 639.3 L1349.0 639.0 L1351.0 638.7 L1353.0 638.4 L1354.9 638.3 L1356.9 638.3 L1358.8 638.5 L1360.7 638.9 L1362.5 639.3 L1364.4 639.9 L1366.2 640.6 L1368.0 641.3 L1369.8 642.2 L1371.5 643.1 L1373.2 644.1 L1374.8 645.2 L1376.4 646.3 L1377.9 647.6 L1379.4 648.9 L1380.7 650.4 L1382.0 652.0 L1383.3 653.7 L1384.6 655.3 L1385.8 657.1 L1387.0 658.8 L1388.2 660.5 L1389.4 662.1 L1390.6 663.7 L1391.8 665.3 L1392.9 666.9 L1394.0 668.6 L1395.1 670.2 L1396.2 671.8 L1397.3 673.5 L1398.4 675.1 L1399.6 676.8 L1400.7 678.4 L1401.9 680.0 L1403.0 681.7 L1404.2 683.3 L1405.3 684.9 L1406.5 686.6 L1407.7 688.2 L1408.8 689.8 L1410.0 691.4 L1411.1 693.1 L1412.3 694.7 L1413.4 696.4 L1414.5 698.1 L1415.5 700.0 L1416.5 701.8 L1417.5 703.6 L1418.6 705.3 L1419.7 707.0 L1420.9 708.5 L1422.2 709.8 L1423.7 711.0 L1425.3 712.0 L1427.1 712.8 L1428.9 713.5 L1430.9 714.1 L1432.9 714.6 L1435.0 715.0 L1437.0 715.2 L1439.1 715.4 L1441.1 715.5 L1443.1 715.6 L1445.0 715.5 L1446.9 715.2 L1448.8 714.8 L1450.7 714.3 L1452.6 713.7 L1454.5 713.1 L1456.4 712.6 L1458.3 712.1 L1460.3 711.7 L1462.2 711.5 L1464.2 711.4 L1466.2 711.3 L1468.3 711.2 L1470.4 711.2 L1472.5 711.3 L1474.5 711.5 L1476.5 711.8 L1478.5 712.2 L1480.3 712.8 L1482.0 713.5 L1483.6 714.4 L1485.1 715.6 L1486.5 716.9 L1487.8 718.4 L1489.1 720.0 L1490.3 721.6 L1491.5 723.3 L1492.7 724.9 L1493.9 726.6 L1495.1 728.2 L1496.3 729.8 L1497.5 731.3 L1498.7 732.9 L1499.8 734.5 L1500.9 736.2 L1502.0 737.8 L1503.1 739.5 L1504.1 741.2 L1505.1 742.9 L1506.1 744.6 L1507.0 746.4 L1507.8 748.2 L1508.5 750.1 L1509.2 752.0 L1509.9 753.9 L1510.6 755.8 L1511.3 757.7 L1512.1 759.6 L1512.9 761.4 L1513.8 763.2 L1514.8 764.9 L1515.9 766.5 L1517.1 768.0 L1518.3 769.6 L1519.6 771.1 L1520.8 772.6 L1522.0 774.2 L1523.2 775.7 L1524.3 777.3 L1525.3 779.0 L1526.2 780.8 L1527.1 782.6 L1527.9 784.4 L1528.6 786.3 L1529.3 788.2 L1530.0 790.1 L1530.7 792.0 L1531.4 793.9 L1532.1 795.7 L1532.9 797.6 L1533.6 799.5 L1534.3 801.6 L1534.9 803.7 L1535.5 805.8 L1536.2 807.9 L1536.9 809.9 L1537.7 811.7 L1538.6 813.4 L1539.7 814.7 L1541.0 815.8 L1542.6 816.6 L1544.5 817.1 L1546.5 817.4 L1548.7 817.5 L1551.0 817.4 L1553.3 817.1 L1555.7 816.7 L1557.9 816.2 L1560.0 815.6 L1562.0 815.0 L1563.7 814.2 L1565.3 813.2 L1566.9 811.9 L1568.4 810.5 L1569.8 809.1 L1571.3 807.7 L1572.8 806.3 L1574.3 805.1 L1575.9 804.1 L1577.6 803.4 L1579.4 802.9 L1581.4 802.5 L1583.4 802.2 L1585.5 802.1 L1587.7 802.0 L1589.8 802.1 L1591.8 802.4 L1593.8 802.7 L1595.7 803.2 L1597.4 803.9 L1599.0 804.7 L1600.5 805.7 L1601.9 806.9 L1603.3 808.3 L1604.6 809.7 L1605.8 811.2 L1607.0 812.8 L1608.2 814.4 L1609.3 816.0 L1610.4 817.6 L1611.5 819.2 L1612.5 820.9 L1613.5 822.6 L1614.4 824.4 L1615.3 826.2 L1616.2 828.0 L1617.0 829.9 L1617.8 831.7 L1618.6 833.6 L1619.4 835.4 L1620.2 837.3 L1620.9 839.1 L1621.6 841.0 L1622.3 842.9 L1623.0 844.9 L1623.6 846.8 L1624.3 848.7 L1624.9 850.6 L1625.5 852.6 L1626.1 854.5 L1626.7 856.4 L1627.3 858.3 L1627.8 860.2 L1628.3 862.1 L1628.8 864.1 L1629.4 866.0 L1629.9 867.9 L1630.4 869.8 L1630.9 871.8 L1631.5 873.7 L1632.1 875.9 L1632.9 878.3 L1633.7 881.0 L1634.5 883.6 L1635.3 886.2 L1636.0 888.6 L1636.6 890.7 L1637.2 892.3 L1637.5 893.4 L1637.6 893.8" stroke="#1695D5" stroke-width="10.6" stroke-linejoin="round" stroke-dasharray="0.0 0.2 11.0 9.1 11.0 9.1 11.0 9.1 11.0 9.1 11.0 9.1 11.0 9.1 11.0 9.1 11.0 9.1 11.0 9.1 11.0 9.1 11.0 9.1 11.0 9.2 11.0 5.3 11.0 12.1 11.0 9.1 11.0 9.0 11.0 9.0 11.0 9.0 11.0 9.5 11.0 9.1 11.0 8.6 11.0 9.2 11.0 9.2 11.0 9.1 11.0 9.1 11.0 8.9 11.0 9.1 11.0 7.6 11.0 10.5 11.0 8.6 11.0 9.6 11.0 11.3 11.0 7.4 11.0 9.4 11.0 8.7 11.0 9.1 11.0 8.6 11.0 9.5 11.0 9.6 11.0 8.5 11.0 9.4 11.0 9.1 11.0 8.7 11.0 8.9 11.0 9.1 11.0 9.1 11.0 9.2 11.0 9.1 11.0 8.7 11.0 9.2 11.0 9.4 11.0 8.7 11.0 8.5 11.0 9.0 11.0 9.4 11.0 9.0 11.0 9.3 11.0 9.2 11.0 8.9 11.0 9.0 11.0 8.6 11.0 9.6 11.0 8.5 11.0 8.8 11.0 9.4 11.0 9.0 11.0 9.1 11.0 9.2 11.0 9.1 11.0 8.4 11.0 9.5 11.0 8.8 11.0 9.0 11.0 9.0 11.0 9.2 11.0 8.6 11.0 9.1 11.0 8.9 11.0 8.8 11.0 9.2 11.0 8.6 11.0 9.1 11.0 9.3 11.0 10.5 11.0 8.6 11.0 9.2 11.0 8.1 11.0 9.0 11.0 9.2 11.0 8.9 11.0 10.0 11.0 100000.0"/>
<path d="M281.3 46.7 L281.4 46.7 L281.7 46.7 L282.1 46.7 L282.6 46.7 L283.2 46.7 L283.9 46.7 L284.7 46.7 L285.5 46.7 L286.2 46.7 L287.0 46.7 L288.5 46.7 L290.2 46.7 L292.1 46.7 L294.1 46.7 L296.3 46.7 L298.5 46.7 L300.7 46.7 L302.9 46.7 L305.0 46.7 L307.1 46.7 L309.1 46.7 L311.1 46.7 L313.1 46.7 L315.1 46.7 L317.1 46.7 L319.1 46.7 L321.1 46.7 L323.1 46.7 L325.1 46.7 L327.1 46.7 L329.1 46.7 L331.2 46.7 L333.2 46.7 L335.2 46.7 L337.2 46.7 L339.2 46.8 L341.2 46.8 L343.2 46.7 L345.2 46.7 L347.2 46.7 L349.2 46.7 L351.2 46.6 L353.2 46.5 L355.2 46.5 L357.2 46.4 L359.3 46.3 L361.3 46.2 L363.3 46.1 L365.3 46.1 L367.3 46.0 L369.3 45.9 L371.3 45.9 L373.3 45.8 L375.3 45.8 L377.3 45.7 L379.3 45.7 L381.3 45.6 L383.3 45.6 L385.3 45.5 L387.4 45.5 L389.4 45.4 L391.4 45.4 L393.4 45.3 L395.4 45.3 L397.4 45.2 L399.4 45.1 L401.4 45.1 L403.4 45.0 L405.4 45.0 L407.4 45.0 L409.4 45.0 L411.4 45.0 L413.4 45.1 L415.4 45.1 L417.5 45.2 L419.5 45.2 L421.5 45.3 L423.5 45.4 L425.5 45.4 L427.5 45.5 L429.5 45.6 L431.5 45.7 L433.5 45.8 L435.5 45.9 L437.5 46.0 L439.5 46.1 L441.5 46.2 L443.5 46.3 L445.6 46.4 L447.6 46.5 L449.6 46.6 L451.6 46.7 L453.6 46.8 L455.6 46.9 L457.6 47.1 L459.6 47.2 L461.6 47.3 L463.6 47.4 L465.6 47.4 L467.6 47.5 L469.6 47.5 L471.6 47.6 L473.7 47.6 L475.7 47.6 L477.7 47.6 L479.7 47.6 L481.7 47.6 L483.7 47.5 L485.7 47.5 L487.7 47.5 L489.7 47.5 L491.7 47.5 L493.7 47.4 L495.7 47.4 L497.7 47.4 L499.7 47.3 L501.8 47.3 L503.8 47.2 L505.8 47.1 L507.8 47.0 L509.8 46.9 L511.8 46.7 L513.8 46.5 L515.8 46.3 L517.8 46.1 L519.8 45.9 L521.8 45.7 L523.8 45.5 L525.8 45.4 L527.8 45.2 L529.8 45.1 L531.9 44.9 L533.9 44.8 L535.9 44.6 L537.9 44.5 L539.9 44.4 L541.9 44.3 L543.9 44.2 L545.9 44.1 L547.9 44.0 L549.9 44.0 L551.9 43.9 L553.9 43.9 L555.9 43.9 L557.9 43.9 L560.0 43.9 L562.0 44.0 L564.0 44.0 L566.0 44.0 L568.0 44.0 L570.0 44.0 L572.0 44.0 L574.0 44.0 L576.0 44.0 L578.0 44.0 L580.0 44.0 L582.0 44.0 L584.0 44.0 L586.0 44.0 L588.0 44.0 L590.1 44.0 L592.1 44.0 L594.1 44.0 L596.1 44.0 L598.1 44.0 L600.1 44.0 L602.1 44.0 L604.1 44.0 L606.1 44.0 L608.1 44.0 L610.1 44.0 L612.1 44.0 L614.1 44.0 L616.1 44.0 L618.2 44.0 L620.2 44.0 L622.2 44.0 L624.2 44.0 L626.2 44.0 L628.2 44.0 L630.2 44.0 L632.2 44.0 L634.2 44.0 L636.2 44.0 L638.3 44.0 L640.3 44.0 L642.3 44.0 L644.3 44.0 L646.3 44.0 L648.3 44.0 L650.2 44.0 L652.1 44.0 L654.0 44.0 L656.0 44.0 L657.9 44.0 L659.8 44.0 L661.7 44.0 L663.6 44.0 L665.6 44.0 L667.5 44.0 L669.5 44.0 L671.5 44.1 L673.5 44.1 L675.5 44.2 L677.5 44.3 L679.6 44.4 L681.6 44.4 L683.6 44.5 L685.6 44.6 L687.6 44.7 L689.6 44.8 L691.5 44.9 L693.5 45.0 L695.4 45.1 L697.4 45.2 L699.4 45.3 L701.3 45.4 L703.3 45.5 L705.2 45.6 L707.2 45.7 L709.2 45.8 L711.2 46.0 L713.2 46.1 L715.2 46.3 L717.2 46.4 L719.2 46.6 L721.3 46.7 L723.3 46.9 L725.3 47.1 L727.3 47.2 L729.3 47.3 L731.3 47.5 L733.3 47.6 L735.3 47.8 L737.3 47.9 L739.4 48.0 L741.4 48.2 L743.4 48.3 L745.4 48.4 L747.4 48.5 L749.4 48.6 L751.4 48.7 L753.4 48.8 L755.4 48.8 L757.5 48.9 L759.5 49.0 L761.5 49.0 L763.5 49.0 L765.5 49.0 L767.5 49.0 L769.5 48.9 L771.5 48.9 L773.5 48.8 L775.5 48.6 L777.6 48.5 L779.6 48.4 L781.6 48.2 L783.6 48.0 L785.6 47.9 L787.6 47.7 L789.6 47.5 L791.6 47.3 L793.5 47.1 L795.5 46.9 L797.5 46.7 L799.5 46.5 L801.5 46.3 L803.4 46.1 L805.4 45.9 L807.4 45.7 L809.4 45.5 L811.4 45.3 L813.5 45.0 L815.5 44.7 L817.5 44.5 L819.6 44.3 L821.6 44.2 L823.6 44.2 L825.6 44.3 L827.5 44.5 L829.4 44.9 L831.4 45.3 L833.3 45.9 L835.3 46.5 L837.2 47.2 L839.1 48.0 L840.9 48.9 L842.7 49.8 L844.3 50.9 L845.9 52.0 L847.4 53.2 L848.7 54.6 L850.0 56.1 L851.2 57.7 L852.4 59.3 L853.5 61.0 L854.6 62.7 L855.7 64.4 L856.8 66.1 L857.9 67.8 L859.1 69.5 L860.2 71.2 L861.3 73.0 L862.5 74.7 L863.6 76.5 L864.7 78.3 L865.8 80.1 L866.9 81.9 L867.9 83.6 L869.0 85.4 L870.0 87.1 L871.1 88.8 L872.1 90.5 L873.1 92.2 L874.2 93.9 L875.2 95.6 L876.2 97.3 L877.1 99.0 L878.1 100.8 L879.0 102.5 L879.9 104.3 L880.8 106.0 L881.7 107.8 L882.5 109.6 L883.4 111.4 L884.2 113.3 L885.0 115.1 L885.8 116.9 L886.6 118.8 L887.3 120.6 L888.0 122.4 L888.7 124.3 L889.4 126.2 L890.0 128.0 L890.7 129.9 L891.3 131.8 L891.9 133.7 L892.5 135.6 L893.1 137.5 L893.6 139.4 L894.1 141.3 L894.6 143.2 L895.1 145.2 L895.5 147.1 L896.0 149.1 L896.4 151.0 L896.8 153.0 L897.2 154.9 L897.7 156.9 L898.1 158.8 L898.6 160.7 L899.0 162.7 L899.4 164.7 L899.9 166.6 L900.3 168.6 L900.8 170.5 L901.2 172.5 L901.7 174.4 L902.2 176.4 L902.7 178.3 L903.2 180.3 L903.8 182.2 L904.4 184.2 L904.9 186.1 L905.5 188.0 L906.1 190.0 L906.8 191.9 L907.4 193.9 L908.0 195.8 L908.7 197.7 L909.4 199.6 L910.1 201.5 L910.8 203.4 L911.6 205.2 L912.3 207.1 L913.1 209.0 L913.8 210.9 L914.6 212.7 L915.3 214.6 L916.0 216.5 L916.7 218.4 L917.4 220.3 L918.2 222.2 L918.9 224.1 L919.6 226.0 L920.3 227.9 L921.0 229.8 L921.6 231.7 L922.2 233.7 L922.7 235.6 L923.2 237.5 L923.6 239.4 L923.9 241.4 L924.2 243.3 L924.5 245.3 L924.8 247.2 L925.1 249.2 L925.3 251.1 L925.5 253.1 L925.8 255.0 L926.0 256.9 L926.2 258.8 L926.4 260.6 L926.6 262.5 L926.8 264.4 L926.9 266.3 L927.1 268.1 L927.3 270.0 L927.5 271.9 L927.8 273.8 L928.1 275.8 L928.4 277.8 L928.7 279.8 L929.1 281.8 L929.4 283.8 L929.8 285.9 L930.2 287.9 L930.6 289.9 L931.0 291.9 L931.5 293.9 L932.0 295.9 L932.5 297.8 L933.0 299.8 L933.6 301.8 L934.1 303.7 L934.7 305.7 L935.3 307.6 L936.0 309.6 L936.6 311.5 L937.3 313.4 L938.0 315.3 L938.7 317.2 L939.5 319.0 L940.3 320.9 L941.1 322.8 L941.9 324.6 L942.7 326.5 L943.5 328.3 L944.3 330.2 L945.1 332.0 L945.9 333.8 L946.7 335.7 L947.5 337.5 L948.3 339.3 L949.1 341.1 L949.9 343.0 L950.7 344.8 L951.5 346.6 L952.3 348.5 L953.1 350.3 L953.9 352.2 L954.7 354.1 L955.5 356.0 L956.2 357.9 L957.0 359.8 L957.8 361.7 L958.5 363.6 L959.3 365.4 L960.1 367.3 L960.9 369.2 L961.7 371.0 L962.5 372.8 L963.3 374.7 L964.1 376.5 L964.9 378.3 L965.7 380.1 L966.5 381.9 L967.3 383.7 L968.1 385.5 L968.9 387.3 L969.7 389.1 L970.5 390.9 L971.4 392.8 L972.2 394.6 L973.0 396.4 L973.9 398.2 L974.7 400.1 L975.5 401.9 L976.2 403.8 L977.0 405.6 L977.7 407.4 L978.4 409.3 L979.1 411.1 L979.8 413.0 L980.5 414.9 L981.1 416.7 L981.8 418.6 L982.4 420.5 L983.1 422.3 L983.7 424.2 L984.4 426.1 L985.0 427.9 L985.7 429.8 L986.3 431.7 L986.9 433.6 L987.6 435.4 L988.2 437.3 L988.8 439.2 L989.4 441.1 L990.0 443.0 L990.6 444.9 L991.1 446.8 L991.7 448.8 L992.2 450.7 L992.8 452.7 L993.3 454.6 L993.8 456.5 L994.3 458.5 L994.8 460.4 L995.3 462.4 L995.8 464.4 L996.3 466.3 L996.7 468.3 L997.2 470.3 L997.6 472.3 L998.1 474.3 L998.5 476.2 L998.9 478.2 L999.4 480.2 L999.8 482.2 L1000.2 484.2 L1000.6 486.2 L1001.0 488.2 L1001.4 490.2 L1001.8 492.2 L1002.2 494.2 L1002.6 496.2 L1003.0 498.2 L1003.4 500.1 L1003.8 502.1 L1004.2 504.0 L1004.7 505.9 L1005.2 507.8 L1005.6 509.7 L1006.1 511.6 L1006.6 513.5 L1007.1 515.4 L1007.6 517.3 L1008.1 519.2 L1008.6 521.1 L1009.1 523.0 L1009.6 524.9 L1010.0 526.8 L1010.5 528.7 L1011.0 530.7 L1011.5 532.6 L1012.0 534.5 L1012.5 536.4 L1013.0 538.3 L1013.6 540.2 L1014.2 542.1 L1014.7 544.0 L1015.3 546.0 L1015.9 547.9 L1016.5 549.8 L1017.1 551.7 L1017.8 553.7 L1018.4 555.5 L1019.1 557.4 L1019.9 559.3 L1020.7 561.2 L1021.4 563.1 L1022.2 565.1 L1023.0 567.0 L1023.9 568.9 L1024.8 570.8 L1025.7 572.6 L1026.8 574.3 L1027.9 576.0 L1029.2 577.5 L1030.6 578.9 L1032.1 580.1 L1033.8 581.2 L1035.5 582.3 L1037.3 583.2 L1039.1 584.2 L1040.9 585.2 L1042.7 586.2 L1044.4 587.2 L1046.0 588.4 L1047.6 589.6 L1049.1 590.8 L1050.7 592.0 L1052.2 593.2 L1053.8 594.4 L1055.2 595.7 L1056.7 597.1 L1058.0 598.4 L1059.3 599.9 L1060.4 601.4 L1061.4 603.0 L1062.4 604.7 L1063.2 606.5 L1064.0 608.3 L1064.7 610.2 L1065.4 612.1 L1066.0 614.0 L1066.6 616.0 L1067.2 617.9 L1067.9 619.8 L1068.6 621.7 L1069.2 623.7 L1069.8 625.7 L1070.4 627.7 L1071.0 629.7 L1071.6 631.7 L1072.2 633.7 L1072.7 635.7 L1073.3 637.6 L1073.9 639.6 L1074.5 641.5 L1075.1 643.4 L1075.7 645.3 L1076.3 647.2 L1076.9 649.0 L1077.5 650.9 L1078.0 652.8 L1078.6 654.7 L1079.2 656.6 L1079.7 658.5 L1080.2 660.4 L1080.7 662.4 L1081.3 664.3 L1081.7 666.3 L1082.2 668.3 L1082.7 670.2 L1083.2 672.2 L1083.6 674.2 L1084.1 676.1 L1084.5 678.1 L1084.9 680.1 L1085.3 682.0 L1085.7 684.0 L1086.1 686.0 L1086.5 688.0 L1086.8 690.0 L1087.2 691.9 L1087.5 693.9 L1087.9 695.9 L1088.2 697.9 L1088.5 699.9 L1088.9 701.9 L1089.2 703.9 L1089.5 705.9 L1089.8 707.8 L1090.2 709.8 L1090.5 711.8 L1090.7 713.8 L1091.0 715.8 L1091.3 717.8 L1091.6 719.8 L1091.8 721.8 L1092.0 723.7 L1092.2 725.7 L1092.4 727.7 L1092.6 729.7 L1092.8 731.7 L1093.0 733.6 L1093.3 735.6 L1093.5 737.6 L1093.7 739.6 L1094.0 741.5 L1094.2 743.5 L1094.5 745.5 L1094.7 747.4 L1095.0 749.4 L1095.2 751.3 L1095.6 753.3 L1095.9 755.3 L1096.3 757.2 L1096.7 759.2 L1097.2 761.3 L1097.7 763.3 L1098.2 765.4 L1098.7 767.5 L1099.2 769.5 L1099.8 771.5 L1100.5 773.4 L1101.1 775.2 L1101.8 776.8 L1102.4 778.0 L1103.1 779.3 L1103.9 780.6 L1104.7 781.8 L1105.6 783.0 L1106.3 784.1 L1107.0 785.0 L1107.5 785.7 L1107.9 786.1 L1108.0 786.3 L1108.2 786.2 L1108.6 785.9 L1109.3 785.5 L1110.2 784.9 L1111.2 784.2 L1112.3 783.4 L1113.4 782.5 L1114.5 781.6 L1115.5 780.7 L1116.4 779.8 L1117.5 778.4 L1118.7 776.8 L1119.8 775.0 L1120.9 773.2 L1122.0 771.2 L1123.1 769.3 L1124.2 767.3 L1125.2 765.5 L1126.3 763.7 L1127.4 762.2 L1128.3 761.0 L1129.3 759.8 L1130.4 758.6 L1131.4 757.4 L1132.5 756.2 L1133.4 755.2 L1134.3 754.3 L1134.9 753.6 L1135.3 753.2 L1135.5 753.0 L1135.6 753.1 L1136.0 753.3 L1136.6 753.7 L1137.4 754.1 L1138.3 754.7 L1139.2 755.3 L1140.2 756.0 L1141.1 756.8 L1142.0 757.6 L1142.7 758.4 L1143.7 759.7 L1144.7 761.2 L1145.7 762.9 L1146.7 764.7 L1147.6 766.6 L1148.5 768.6 L1149.4 770.6 L1150.3 772.6 L1151.1 774.6 L1151.8 776.5 L1152.5 778.4 L1153.1 780.3 L1153.7 782.3 L1154.3 784.2 L1154.8 786.2 L1155.3 788.2 L1155.8 790.2 L1156.2 792.2 L1156.7 794.1 L1157.1 796.1 L1157.5 798.0 L1157.9 800.0 L1158.3 801.9 L1158.6 803.8 L1159.0 805.8 L1159.3 807.7 L1159.6 809.6 L1159.9 811.6 L1160.3 813.5 L1160.6 815.5 L1161.0 817.5 L1161.3 819.5 L1161.7 821.6 L1162.0 823.6 L1162.4 825.6 L1162.7 827.7 L1163.1 829.7 L1163.4 831.7 L1163.8 833.8 L1164.1 835.8 L1164.4 837.8 L1164.7 839.8 L1165.0 841.8 L1165.3 843.7 L1165.6 845.7 L1165.9 847.7 L1166.2 849.7 L1166.5 851.7 L1166.7 853.6 L1167.0 855.6 L1167.3 857.5 L1167.5 859.5 L1167.7 861.4 L1168.0 863.4 L1168.2 865.3 L1168.4 867.2 L1168.6 869.2 L1168.8 871.1 L1169.1 873.0 L1169.3 875.0 L1169.5 877.0 L1169.8 879.0 L1170.0 881.0 L1170.3 883.0 L1170.5 885.0 L1170.8 887.0 L1171.0 889.0 L1171.3 891.1 L1171.5 893.1 L1171.7 895.1 L1171.9 897.1 L1172.1 899.2 L1172.3 901.2 L1172.5 903.2 L1172.7 905.3 L1172.9 907.3 L1173.1 909.3 L1173.2 911.4 L1173.4 913.4 L1173.6 915.4 L1173.8 917.4 L1174.0 919.4 L1174.1 921.4 L1174.3 923.4 L1174.5 925.4 L1174.6 927.4 L1174.8 929.3 L1175.0 931.3 L1175.1 933.3 L1175.3 935.3 L1175.5 937.3 L1175.6 939.2 L1175.8 941.2 L1176.0 943.2 L1176.2 945.1 L1176.3 947.1 L1176.5 949.1 L1176.7 951.0 L1176.8 953.0 L1177.0 955.0 L1177.2 957.0 L1177.3 959.0 L1177.5 961.0 L1177.7 963.0 L1177.8 965.0 L1178.0 967.0 L1178.1 969.1 L1178.3 971.1 L1178.5 973.1 L1178.6 975.1 L1178.7 977.1 L1178.9 979.1 L1179.0 981.1 L1179.1 983.2 L1179.2 985.2 L1179.3 987.2 L1179.5 989.2 L1179.6 991.2 L1179.7 993.2 L1179.9 995.2 L1180.1 997.2 L1180.2 999.1 L1180.4 1001.1 L1180.6 1003.0 L1180.7 1004.9 L1180.9 1006.9 L1181.2 1008.8 L1181.4 1010.8 L1181.7 1012.7 L1182.0 1014.7 L1182.4 1017.0 L1183.0 1019.6 L1183.6 1022.4 L1184.3 1025.2 L1184.9 1028.0 L1185.6 1030.5 L1186.1 1032.7 L1186.6 1034.5 L1186.9 1035.6 L1187.0 1036.0 L1187.1 1035.8 L1187.5 1035.1 L1188.1 1034.1 L1188.9 1032.8 L1189.7 1031.4 L1190.6 1029.7 L1191.4 1028.0 L1192.3 1026.3 L1193.0 1024.6 L1193.5 1023.0 L1194.0 1021.2 L1194.3 1019.3 L1194.6 1017.4 L1194.9 1015.3 L1195.1 1013.3 L1195.2 1011.2 L1195.4 1009.1 L1195.5 1007.0 L1195.6 1004.9 L1195.8 1002.9 L1196.0 1000.9 L1196.1 998.9 L1196.2 996.9 L1196.4 994.9 L1196.5 992.9 L1196.6 990.8 L1196.7 988.8 L1196.8 986.8 L1197.0 984.8 L1197.1 982.8 L1197.3 980.8 L1197.4 978.8 L1197.6 976.8 L1197.8 974.7 L1197.9 972.7 L1198.1 970.7 L1198.3 968.7 L1198.5 966.7 L1198.8 964.7 L1199.0 962.7 L1199.2 960.7 L1199.5 958.8 L1199.8 956.8 L1200.1 954.9 L1200.3 952.9 L1200.6 951.0 L1200.9 949.0 L1201.3 947.1 L1201.6 945.2 L1201.9 943.2 L1202.2 941.2 L1202.6 939.2 L1202.9 937.3 L1203.3 935.3 L1203.6 933.3 L1204.0 931.3 L1204.4 929.3 L1204.8 927.3 L1205.2 925.4 L1205.6 923.4 L1206.0 921.5 L1206.5 919.6 L1206.9 917.7 L1207.4 915.8 L1207.8 913.9 L1208.3 912.0 L1208.8 910.1 L1209.4 908.2 L1209.9 906.3 L1210.5 904.3 L1211.2 901.9 L1212.1 899.2 L1213.1 896.3 L1214.2 893.3 L1215.2 890.5 L1216.2 887.8 L1217.0 885.5 L1217.7 883.6 L1218.1 882.4 L1218.3 882.0 L1218.6 882.2 L1219.3 882.7 L1220.5 883.5 L1221.9 884.5 L1223.6 885.7 L1225.3 887.0 L1227.0 888.4 L1228.7 889.9 L1230.1 891.4 L1231.2 892.8 L1232.2 894.4 L1233.0 896.1 L1233.7 897.9 L1234.3 899.7 L1234.9 901.7 L1235.4 903.7 L1235.9 905.7 L1236.3 907.7 L1236.8 909.7 L1237.3 911.6 L1237.8 913.6 L1238.3 915.6 L1238.8 917.6 L1239.3 919.6 L1239.7 921.6 L1240.1 923.6 L1240.6 925.7 L1241.0 927.7 L1241.3 929.7 L1241.7 931.7 L1242.0 933.7 L1242.3 935.6 L1242.6 937.6 L1242.9 939.5 L1243.1 941.5 L1243.4 943.4 L1243.6 945.3 L1243.9 947.3 L1244.1 949.2 L1244.4 951.2 L1244.7 953.2 L1244.9 955.1 L1245.2 957.1 L1245.5 959.1 L1245.8 961.0 L1246.0 963.0 L1246.3 965.0 L1246.6 967.0 L1246.8 968.9 L1247.1 970.9 L1247.4 972.9 L1247.6 974.9 L1247.8 976.9 L1248.1 978.9 L1248.3 980.9 L1248.6 982.8 L1248.8 984.8 L1249.1 986.8 L1249.3 988.8 L1249.6 990.8 L1249.9 992.8 L1250.2 994.8 L1250.4 996.8 L1250.7 998.7 L1251.0 1000.7 L1251.3 1002.7 L1251.6 1004.7 L1251.9 1006.6 L1252.3 1008.6 L1252.6 1010.5 L1252.9 1012.3 L1253.2 1014.0 L1253.4 1015.7 L1253.7 1017.4 L1254.0 1019.0 L1254.3 1020.7 L1254.6 1022.5 L1255.0 1024.2 L1255.5 1026.1 L1256.1 1028.0 L1257.2 1031.1 L1258.7 1034.9 L1260.4 1039.0 L1262.2 1043.2 L1264.1 1047.5 L1265.9 1051.4 L1267.5 1054.8 L1268.8 1057.6 L1269.7 1059.4 L1270.0 1060.0 L1270.4 1059.2 L1271.5 1057.2 L1273.1 1054.0 L1275.1 1050.0 L1277.4 1045.5 L1279.8 1040.6 L1282.2 1035.6 L1284.4 1030.9 L1286.3 1026.6 L1287.7 1023.0 L1288.4 1020.8 L1289.1 1018.7 L1289.6 1016.7 L1290.1 1014.7 L1290.5 1012.8 L1290.9 1010.9 L1291.3 1009.1 L1291.7 1007.2 L1292.2 1005.3 L1292.8 1003.4 L1293.4 1001.5 L1294.1 999.5 L1294.7 997.4 L1295.4 995.4 L1296.1 993.4 L1296.8 991.5 L1297.6 989.6 L1298.4 987.9 L1299.2 986.2 L1300.1 984.7 L1300.9 983.6 L1301.8 982.5 L1302.8 981.4 L1303.9 980.3 L1304.9 979.3 L1305.9 978.4 L1306.7 977.6 L1307.4 977.0 L1307.8 976.6 L1308.0 976.5 L1308.1 976.7 L1308.6 977.1 L1309.2 977.8 L1310.0 978.7 L1310.9 979.7 L1311.9 980.8 L1313.0 982.0 L1314.0 983.3 L1314.9 984.5 L1315.8 985.6 L1316.8 987.1 L1317.9 988.6 L1319.0 990.3 L1320.1 992.0 L1321.2 993.8 L1322.3 995.6 L1323.4 997.4 L1324.4 999.2 L1325.4 1001.1 L1326.3 1002.9 L1327.1 1004.7 L1327.8 1006.5 L1328.5 1008.3 L1329.1 1010.1 L1329.7 1011.9 L1330.3 1013.7 L1331.0 1015.7 L1331.7 1017.7 L1332.6 1019.8 L1333.6 1022.0 L1335.9 1026.4 L1338.9 1031.8 L1342.4 1037.9 L1346.2 1044.3 L1350.1 1050.7 L1353.8 1056.7 L1357.0 1062.0 L1359.6 1066.2 L1361.4 1069.0 L1362.0 1070.0 L1362.7 1069.0 L1364.6 1066.3 L1367.4 1062.2 L1371.0 1057.1 L1374.9 1051.2 L1379.1 1045.0 L1383.1 1038.7 L1386.8 1032.7 L1389.9 1027.4 L1392.2 1023.0 L1393.1 1020.8 L1393.9 1018.7 L1394.5 1016.7 L1395.0 1014.8 L1395.4 1012.9 L1395.8 1011.1 L1396.3 1009.3 L1396.7 1007.5 L1397.3 1005.7 L1398.0 1003.8 L1398.9 1001.8 L1399.8 999.7 L1400.9 997.6 L1402.0 995.5 L1403.1 993.4 L1404.2 991.3 L1405.3 989.4 L1406.3 987.7 L1407.3 986.1 L1408.2 984.8 L1408.7 984.2 L1409.1 983.6 L1409.7 983.0 L1410.2 982.4 L1410.6 981.9 L1411.1 981.4 L1411.4 981.0 L1411.7 980.7 L1411.9 980.6 L1412.0 980.5 L1412.2 980.8 L1412.8 981.5 L1413.7 982.7 L1414.8 984.1 L1416.1 985.8 L1417.5 987.7 L1418.8 989.6 L1420.2 991.6 L1421.3 993.5 L1422.3 995.2 L1423.1 996.9 L1423.9 998.5 L1424.5 1000.2 L1425.1 1001.9 L1425.7 1003.7 L1426.3 1005.5 L1426.9 1007.4 L1427.5 1009.4 L1428.2 1011.5 L1429.0 1013.8 L1430.7 1018.7 L1432.8 1024.9 L1435.2 1032.0 L1437.7 1039.5 L1440.3 1047.0 L1442.7 1054.2 L1444.8 1060.4 L1446.5 1065.5 L1447.6 1068.8 L1448.0 1070.0 L1448.5 1069.0 L1449.8 1066.3 L1451.7 1062.2 L1454.1 1057.1 L1456.8 1051.2 L1459.6 1045.0 L1462.4 1038.7 L1464.8 1032.7 L1466.8 1027.4 L1468.2 1023.0 L1468.8 1020.7 L1469.2 1018.5 L1469.5 1016.4 L1469.7 1014.4 L1469.8 1012.5 L1470.0 1010.6 L1470.0 1008.7 L1470.2 1006.8 L1470.3 1004.9 L1470.5 1002.9 L1470.7 1000.9 L1471.0 998.9 L1471.2 996.9 L1471.5 994.8 L1471.7 992.8 L1472.0 990.8 L1472.2 988.8 L1472.5 986.8 L1472.7 984.8 L1473.0 982.8 L1473.3 980.8 L1473.5 978.9 L1473.8 976.9 L1474.0 975.0 L1474.3 973.0 L1474.6 971.1 L1474.9 969.1 L1475.2 967.2 L1475.5 965.2 L1475.9 963.3 L1476.3 961.3 L1476.7 959.3 L1477.2 957.3 L1477.6 955.4 L1478.1 953.4 L1478.6 951.4 L1479.1 949.4 L1479.6 947.4 L1480.2 945.5 L1480.7 943.5 L1481.2 941.6 L1481.7 939.6 L1482.3 937.7 L1482.8 935.7 L1483.3 933.8 L1483.9 931.8 L1484.5 929.9 L1485.2 928.1 L1486.0 926.2 L1486.8 924.4 L1487.9 922.5 L1489.2 920.3 L1490.6 918.1 L1492.2 915.8 L1493.8 913.7 L1495.2 911.7 L1496.5 910.0 L1497.6 908.7 L1498.3 907.8 L1498.5 907.5 L1498.8 907.8 L1499.5 908.6 L1500.7 909.7 L1502.1 911.3 L1503.8 913.0 L1505.6 915.0 L1507.4 916.9 L1509.2 918.9 L1510.8 920.8 L1512.2 922.5 L1513.4 924.2 L1514.6 926.2 L1515.8 928.3 L1517.0 930.5 L1518.1 932.6 L1519.2 934.6 L1520.4 936.3 L1521.5 937.6 L1522.6 938.5 L1523.7 938.8 L1524.8 938.5 L1526.0 937.7 L1527.2 936.4 L1528.4 934.7 L1529.5 932.8 L1530.6 930.8 L1531.7 928.6 L1532.8 926.4 L1533.7 924.4 L1534.6 922.5 L1535.4 920.7 L1536.1 918.8 L1536.7 917.0 L1537.3 915.0 L1537.8 913.1 L1538.3 911.1 L1538.8 909.2 L1539.2 907.2 L1539.7 905.2 L1540.2 903.3 L1540.7 901.3 L1541.2 899.4 L1541.6 897.4 L1542.1 895.4 L1542.6 893.5 L1543.0 891.5 L1543.4 889.5 L1543.9 887.5 L1544.3 885.6 L1544.8 883.6 L1545.3 881.6 L1545.7 879.7 L1546.2 877.7 L1546.7 875.8 L1547.2 873.8 L1547.7 871.9 L1548.1 870.0 L1548.6 868.0 L1549.1 866.1 L1549.6 864.1 L1550.1 862.1 L1550.6 860.2 L1551.0 858.2 L1551.5 856.2 L1552.0 854.2 L1552.5 852.3 L1553.0 850.3 L1553.5 848.3 L1554.0 846.4 L1554.5 844.4 L1555.0 842.4 L1555.5 840.5 L1556.1 838.5 L1556.6 836.6 L1557.1 834.6 L1557.7 832.7 L1558.2 830.7 L1558.8 828.8 L1559.3 826.8 L1559.9 824.9 L1560.5 823.0 L1561.0 821.1 L1561.5 819.2 L1562.0 817.3 L1562.6 815.4 L1563.2 813.5 L1563.7 811.6 L1564.4 809.7 L1565.1 807.9 L1565.8 806.0 L1566.7 803.9 L1567.9 801.5 L1569.1 799.0 L1570.5 796.4 L1571.8 794.0 L1573.1 791.7 L1574.1 789.7 L1575.0 788.2 L1575.6 787.2 L1575.8 786.8 L1576.1 787.0 L1577.0 787.4 L1578.4 788.2 L1580.2 789.2 L1582.2 790.3 L1584.3 791.6 L1586.4 793.0 L1588.4 794.4 L1590.2 795.8 L1591.7 797.2 L1592.9 798.6 L1594.1 800.2 L1595.2 801.8 L1596.2 803.5 L1597.1 805.2 L1598.0 807.0 L1598.8 808.9 L1599.7 810.7 L1600.4 812.6 L1601.2 814.4 L1602.0 816.3 L1602.6 818.2 L1603.3 820.2 L1603.9 822.2 L1604.5 824.2 L1605.0 826.3 L1605.5 828.3 L1606.0 830.4 L1606.5 832.4 L1607.0 834.4 L1607.5 836.4 L1607.9 838.4 L1608.3 840.3 L1608.7 842.3 L1609.0 844.3 L1609.4 846.3 L1609.7 848.3 L1610.1 850.2 L1610.4 852.2 L1610.8 854.2 L1611.2 856.2 L1611.6 858.1 L1611.9 860.1 L1612.3 862.0 L1612.7 864.0 L1613.1 865.9 L1613.4 867.9 L1613.8 869.8 L1614.2 871.8 L1614.6 873.7 L1615.0 875.7 L1615.3 877.6 L1615.7 879.6 L1616.0 881.6 L1616.3 883.6 L1616.7 885.6 L1617.1 887.5 L1617.6 889.5 L1618.1 891.4 L1618.7 893.2 L1619.4 895.1 L1620.1 897.1 L1621.0 899.3 L1621.8 901.5 L1622.8 903.6 L1623.7 905.5 L1624.6 907.2 L1625.5 908.4 L1626.3 909.2 L1627.1 909.5 L1627.9 909.1 L1628.6 908.0 L1629.3 906.4 L1629.9 904.3 L1630.6 902.0 L1631.2 899.5 L1631.8 896.9 L1632.5 894.4 L1633.1 892.0 L1633.8 890.0 L1634.5 888.2 L1635.3 886.1 L1636.2 884.0 L1637.1 881.8 L1638.0 879.7 L1638.8 877.8 L1639.5 876.1 L1640.0 874.8 L1640.4 874.0 L1640.5 873.7" stroke="#EE1658" stroke-width="10.6" stroke-linejoin="round" stroke-dasharray="0.0 0.2 11.0 9.1 11.0 9.1 11.0 9.1 11.0 9.1 11.0 9.1 11.0 9.1 11.0 9.1 11.0 9.1 11.0 9.1 11.0 9.1 11.0 9.1 11.0 9.2 11.0 9.1 11.0 9.1 11.0 9.1 11.0 9.1 11.0 9.1 11.0 9.1 11.0 8.2 11.0 9.1 11.0 8.6 11.0 9.2 11.0 9.1 11.0 9.1 11.0 9.1 11.0 8.9 11.0 9.2 11.0 9.1 11.0 8.9 11.0 9.8 11.0 8.8 11.0 8.9 11.0 8.8 11.0 8.9 11.0 9.0 11.0 9.3 11.0 9.2 11.0 9.3 11.0 8.7 11.0 7.9 11.0 9.4 11.0 9.4 11.0 9.2 11.0 9.0 11.0 9.4 11.0 8.8 11.0 9.0 11.0 8.8 11.0 8.8 11.0 9.1 11.0 9.3 11.0 9.3 11.0 8.6 11.0 8.7 11.0 9.1 11.0 9.5 11.0 9.1 11.0 8.5 11.0 8.9 11.0 9.7 11.0 8.8 11.0 9.2 11.0 9.1 11.0 9.1 11.0 8.9 11.0 8.8 11.0 9.4 11.0 11.0 11.0 9.8 11.0 10.3 11.0 9.3 11.0 9.3 11.0 8.7 11.0 9.6 11.0 9.0 11.0 8.5 11.0 9.2 11.0 9.4 11.0 9.0 11.0 8.8 11.0 9.2 11.0 9.1 11.0 8.6 11.0 25.4 11.0 9.3 11.0 9.1 11.0 9.2 11.0 8.7 11.0 9.1 11.0 8.7 11.0 12.6 11.0 5.9 11.0 8.9 11.0 9.6 11.0 8.7 11.0 8.9 11.0 9.1 11.0 8.9 11.0 6.9 11.0 64.9 11.0 9.3 11.0 9.1 11.0 12.4 11.0 9.3 11.0 9.5 11.0 100.7 11.0 9.1 11.0 10.6 11.0 12.7 11.0 8.8 11.0 99.5 11.0 9.3 11.0 9.3 11.0 8.7 11.0 9.4 11.0 9.1 11.0 9.6 11.0 9.3 11.0 9.3 11.0 9.1 11.0 9.0 11.0 9.2 11.0 9.1 11.0 9.3 11.0 9.2 11.0 8.8 11.0 10.7 11.0 8.1 11.0 8.8 11.0 9.8 11.0 9.2 11.0 8.9 11.0 8.9 11.0 7.7 11.0 9.9 11.0 6.6 11.0 100000.0"/>
</g>
<rect x="1055.5" y="69.7" width="559.1" height="202.8" fill="#fff" stroke="#000" stroke-width="5"/>
<line x1="1072" y1="100.5" x2="1142" y2="100.5" stroke="#EE1658" stroke-width="11"/>
<text class="lg" y="121.3"><tspan x="1147.5" style="letter-spacing:1.90px">S11 </tspan><tspan x="1240.0" style="letter-spacing:2.90px">Proposed</tspan></text>
<line x1="1072" y1="144.5" x2="1142" y2="144.5" stroke="#1695D5" stroke-width="11"/>
<text class="lg" y="164.4"><tspan x="1147.5" style="letter-spacing:1.90px">S11 </tspan><tspan x="1240.0" style="letter-spacing:2.90px">Step-impedance</tspan></text>
<line x1="1072" y1="191.5" x2="1142" y2="191.5" stroke="#EE1658" stroke-width="11" stroke-dasharray="11 9.1"/>
<text class="lg" y="212.2"><tspan x="1147.5" style="letter-spacing:1.90px">S21 </tspan><tspan x="1242.0" style="letter-spacing:2.90px">Proposed</tspan></text>
<line x1="1072" y1="235.5" x2="1142" y2="235.5" stroke="#1695D5" stroke-width="11" stroke-dasharray="11 9.1"/>
<text class="lg" y="255.3"><tspan x="1147.5" style="letter-spacing:1.90px">S21 </tspan><tspan x="1241.0" style="letter-spacing:2.90px">Step-impedance</tspan></text>
<text class="tk" transform="translate(265.7 74.4) scale(1 1.033)" text-anchor="end">0</text>
<text class="tk" transform="translate(265.7 267.0) scale(1 1.033)" text-anchor="end">-10</text>
<text class="tk" transform="translate(265.7 464.6) scale(1 1.033)" text-anchor="end">-20</text>
<text class="tk" transform="translate(265.7 661.6) scale(1 1.033)" text-anchor="end">-30</text>
<text class="tk" transform="translate(265.7 861.4) scale(1 1.033)" text-anchor="end">-40</text>
<text class="tk" transform="translate(265.7 1058.9) scale(1 1.033)" text-anchor="end">-50</text>
<text class="tk" transform="translate(282.5 1110.0) scale(1 1.033)" text-anchor="middle">1</text>
<text class="tk" transform="translate(512.5 1110.0) scale(1 1.033)" text-anchor="middle">2</text>
<text class="tk" transform="translate(736.5 1110.0) scale(1 1.033)" text-anchor="middle">3</text>
<text class="tk" transform="translate(963.5 1110.0) scale(1 1.033)" text-anchor="middle">4</text>
<text class="tk" transform="translate(1189.5 1110.0) scale(1 1.033)" text-anchor="middle">5</text>
<text class="tk" transform="translate(1416.0 1110.0) scale(1 1.033)" text-anchor="middle">6</text>
<text class="tk" transform="translate(1642.0 1110.0) scale(1 1.033)" text-anchor="middle">7</text>
<text class="ax" y="1216.0"><tspan x="649.9" style="letter-spacing:4.74px">Frequency </tspan><tspan x="1065.4" style="letter-spacing:4.50px">[GHz]</tspan></text>
<text class="ax" transform="translate(72.8 0) rotate(-90)" y="0"><tspan x="-857.8" style="letter-spacing:4.68px">S-parameter </tspan><tspan x="-378.3" style="letter-spacing:3.90px">[dB]</tspan></text>
</svg></body></html>
